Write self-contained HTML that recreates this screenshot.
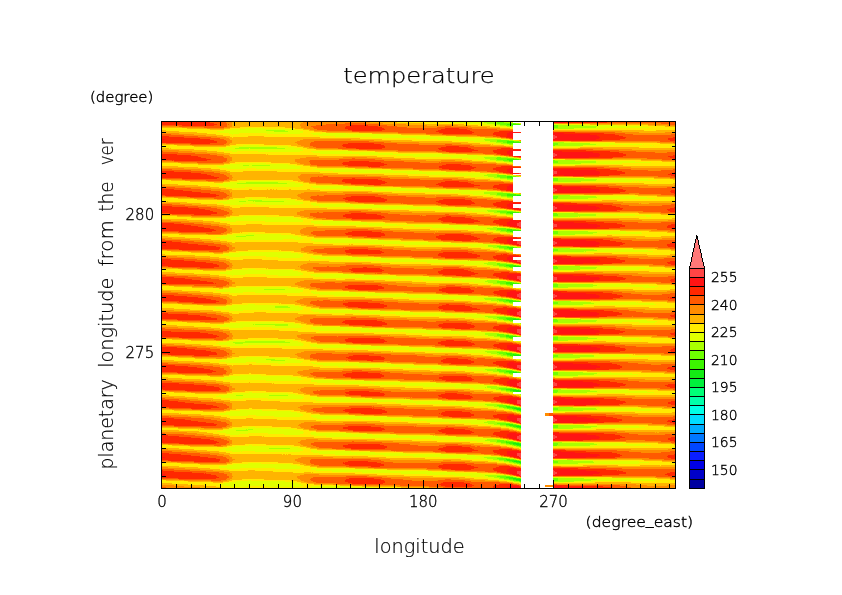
<!DOCTYPE html><html><head><meta charset="utf-8"><title>temperature</title><style>html,body{margin:0;padding:0;background:#fff}svg{display:block}</style></head><body><svg width="842" height="595" viewBox="0 0 842 595"><rect width="842" height="595" fill="#fff"/><g transform="translate(0,0.5)" fill="none" stroke-width="1" shape-rendering="crispEdges"><path stroke="#14eb14" d="M517 195h4M514 266h6M513 319h6M513 354h1M514 355h7M513 372h4M513 390h6M516 391h5M514 408h6M517 409h4M516 426h5M520 427h1M513 443h6M516 444h5M520 445h1M514 461h6M519 462h2M513 478h3M516 479h5M519 480h2"/><path stroke="#3cf500" d="M507 124h13M512 125h1M507 141h7M507 142h14M507 159h12M509 160h4M507 176h5M507 177h6M512 178h1M507 194h9M507 195h10M512 196h1M507 212h12M510 213h3M507 229h5M507 230h14M510 231h3M507 247h7M509 248h4M506 265h10M509 266h5M520 266h1M506 282h6M506 283h13M510 284h3M506 300h7M509 301h11M506 318h10M507 319h6M519 319h2M512 320h1M506 335h3M506 336h11M509 337h4M506 353h6M507 354h6M514 354h5M510 355h4M506 371h8M509 372h4M517 372h3M506 389h10M510 390h3M519 390h2M513 391h3M506 406h4M507 407h10M512 408h2M520 408h1M516 409h1M519 410h2M506 424h7M509 425h10M513 426h3M517 427h3M506 441h1M506 442h10M509 443h4M519 443h2M513 444h3M517 445h3M506 459h4M507 460h10M512 461h2M520 461h1M516 462h3M520 463h1M506 477h7M509 478h4M516 478h4M513 479h3M516 480h3M520 481h1"/><path stroke="#6eff00" d="M497 122h7M497 123h19M500 124h7M520 124h1M506 125h6M553 125h5M553 126h5M553 127h5M497 140h12M497 141h10M514 141h5M503 142h4M507 143h6M553 143h5M553 144h5M553 145h2M497 157h4M496 158h18M497 159h10M519 159h2M503 160h6M553 160h2M509 161h4M553 161h5M553 162h5M497 175h9M497 176h10M512 176h4M500 177h7M507 178h5M553 178h5M553 179h5M553 180h5M497 193h13M497 194h10M516 194h4M501 195h6M507 196h5M553 196h5M553 197h5M553 198h4M497 211h16M500 212h7M519 212h2M506 213h4M553 213h4M512 214h1M553 214h5M553 215h5M497 228h9M497 229h10M512 229h4M501 230h6M506 231h4M553 231h5M512 232h1M553 232h5M553 233h5M497 246h12M499 247h8M514 247h3M504 248h5M509 249h4M553 249h5M553 250h5M553 251h1M497 263h3M497 264h16M499 265h7M516 265h3M504 266h5M553 266h4M510 267h3M553 267h5M553 268h5M497 281h9M497 282h9M512 282h2M500 283h6M519 283h2M506 284h4M553 284h5M512 285h1M553 285h5M553 286h5M497 299h12M499 300h7M513 300h3M503 301h6M520 301h1M509 302h4M553 302h5M553 303h5M497 317h15M499 318h7M516 318h3M503 319h4M553 319h4M509 320h3M553 320h5M553 321h5M497 334h7M497 335h9M509 335h4M500 336h6M517 336h3M506 337h3M553 337h5M510 338h3M553 338h5M553 339h5M497 352h10M499 353h7M512 353h4M503 354h4M519 354h2M507 355h3M553 355h5M512 356h1M553 356h5M553 357h1M497 369h4M497 370h15M499 371h7M514 371h3M504 372h5M520 372h1M553 372h5M509 373h4M553 373h5M553 374h5M499 388h13M501 389h5M516 389h1M518 389h1M506 390h4M553 390h5M510 391h3M553 391h5M553 392h4M497 405h10M499 406h7M510 406h4M503 407h4M517 407h3M507 408h5M553 408h5M513 409h3M553 409h5M517 410h2M520 411h1M497 423h13M500 424h6M513 424h3M506 425h3M519 425h2M553 425h5M510 426h3M553 426h5M514 427h3M553 427h5M519 428h2M497 440h7M497 441h9M507 441h6M501 442h5M516 442h3M506 443h3M553 443h5M510 444h3M553 444h5M514 445h3M553 445h4M519 446h2M497 458h10M499 459h7M510 459h4M504 460h3M517 460h2M553 460h1M509 461h3M553 461h5M513 462h3M553 462h5M517 463h3M497 476h13M500 477h6M513 477h3M504 478h5M520 478h1M553 478h5M509 479h4M553 479h5M513 480h3M553 480h5M519 481h1"/><path stroke="#aaff00" d="M484 122h13M504 122h6M487 123h10M516 123h3M494 124h6M500 125h6M558 125h26M507 126h6M558 126h39M558 127h38M553 128h21M266 130h19M274 131h14M484 139h17M485 140h12M509 140h4M490 141h7M519 141h2M496 142h7M553 142h11M501 143h6M558 143h32M509 144h4M558 144h38M555 145h28M239 147h38M235 148h14M250 148h35M484 157h13M501 157h7M485 158h11M514 158h3M490 159h7M496 160h7M555 160h20M504 161h5M558 161h38M512 162h1M558 162h38M553 163h28M243 165h6M252 165h18M487 174h12M484 175h13M506 175h4M488 176h9M516 176h3M494 177h6M500 178h7M558 178h26M507 179h6M558 179h39M558 180h38M553 181h28M246 182h32M237 183h50M484 192h19M484 193h13M510 193h4M490 194h7M520 194h1M496 195h5M553 195h17M501 196h6M558 196h38M507 197h6M558 197h39M557 198h31M248 200h14M239 201h7M253 201h1M255 201h29M487 210h20M488 211h9M513 211h3M494 212h6M500 213h6M557 213h21M506 214h6M558 214h38M512 215h1M558 215h38M553 216h25M579 216h1M493 227h4M487 228h10M506 228h4M490 229h7M516 229h3M496 230h5M500 231h6M558 231h30M507 232h5M558 232h39M558 233h35M553 234h22M246 235h8M236 236h10M488 245h13M488 246h9M509 246h4M493 247h6M517 247h3M499 248h5M553 248h17M504 249h5M558 249h36M510 250h3M558 250h39M554 251h30M585 251h1M488 262h8M484 263h13M500 263h7M487 264h10M513 264h1M493 265h6M519 265h2M499 266h5M557 266h23M506 267h4M558 267h39M512 268h1M558 268h38M553 269h27M487 280h12M485 281h12M506 281h4M488 282h9M514 282h3M493 283h7M553 283h4M500 284h6M558 284h35M507 285h5M558 285h39M558 286h35M553 287h15M264 289h21M484 298h19M485 299h12M509 299h3M491 300h8M516 300h3M497 301h1M499 301h4M553 301h18M504 302h5M558 302h33M510 303h3M558 303h36M553 304h30M275 306h13M275 307h15M485 316h21M488 317h9M512 317h2M493 318h6M519 318h1M497 319h6M557 319h24M504 320h5M558 320h39M510 321h3M558 321h38M553 322h25M520 323h1M253 324h1M255 324h33M275 325h13M485 333h14M485 334h12M504 334h5M488 335h9M513 335h3M494 336h6M520 336h1M553 336h5M500 337h6M558 337h30M506 338h4M558 338h39M512 339h1M558 339h29M553 340h15M245 341h40M233 342h57M235 343h8M485 351h18M487 352h10M507 352h5M491 353h8M516 353h1M497 354h6M553 354h20M501 355h6M558 355h36M507 356h5M558 356h36M554 357h26M266 359h9M271 360h14M495 368h1M485 369h12M501 369h6M487 370h10M512 370h1M493 371h6M517 371h2M499 372h5M558 372h25M504 373h5M558 373h39M510 374h3M558 374h36M553 375h25M487 386h10M485 387h1M487 387h20M491 388h8M512 388h2M496 389h5M517 389h1M519 389h1M553 389h8M501 390h5M558 390h32M506 391h4M558 391h39M512 392h1M557 392h30M520 394h1M236 395h7M269 395h19M485 404h18M487 405h10M507 405h3M494 406h5M514 406h2M499 407h4M520 407h1M553 407h20M504 408h3M558 408h38M509 409h4M558 409h39M513 410h4M553 410h30M517 411h3M487 421h8M484 422h22M488 423h9M510 423h3M494 424h6M516 424h1M500 425h6M558 425h26M506 426h4M558 426h39M512 427h2M558 427h33M516 428h3M553 428h20M246 429h1M248 429h5M519 429h2M236 430h12M487 439h13M485 440h12M504 440h5M490 441h7M513 441h1M496 442h5M519 442h1M553 442h9M501 443h5M558 443h36M506 444h4M558 444h39M512 445h2M557 445h33M516 446h3M520 447h1M269 448h21M484 457h19M487 458h10M507 458h3M493 459h6M514 459h2M499 460h5M519 460h2M554 460h19M504 461h5M558 461h35M509 462h4M558 462h36M514 463h3M553 463h25M519 464h2M485 475h21M488 476h9M510 476h3M494 477h6M516 477h1M499 478h5M558 478h26M504 479h5M558 479h39M510 480h3M558 480h33M514 481h5M553 481h21M520 482h1"/><path stroke="#e1ff00" d="M448 122h36M510 122h3M469 123h18M519 123h1M483 124h11M553 124h9M493 125h7M584 125h33M500 126h7M597 126h44M509 127h4M596 127h53M246 128h18M574 128h31M232 129h62M224 130h42M285 130h15M217 131h57M288 131h15M220 132h83M229 133h10M267 133h33M311 133h9M322 133h24M347 133h1M232 134h1M313 134h68M319 135h83M335 136h95M372 137h96M416 138h80M438 139h46M501 139h6M459 140h26M513 140h3M474 141h16M487 142h9M564 142h16M494 143h7M590 143h25M503 144h6M596 144h46M643 144h1M243 145h16M512 145h1M583 145h26M650 145h2M653 145h1M232 146h56M553 146h28M226 147h13M277 147h17M219 148h16M249 148h1M285 148h15M219 149h82M224 150h79M232 151h5M258 151h42M311 151h41M313 152h65M320 153h73M359 154h89M396 155h81M413 156h88M451 157h33M508 157h4M468 158h17M517 158h2M478 159h12M488 160h8M575 160h21M496 161h8M596 161h39M506 162h6M596 162h55M240 163h26M581 163h41M230 164h58M553 164h27M224 165h19M249 165h3M270 165h25M217 166h83M219 167h82M227 168h19M256 168h44M313 169h51M319 170h74M333 171h89M359 172h96M407 173h78M427 174h60M499 174h5M455 175h29M510 175h4M471 176h17M519 176h2M484 177h10M553 177h14M493 178h7M584 178h42M500 179h7M597 179h51M509 180h4M596 180h61M239 181h51M581 181h51M633 181h1M636 181h1M639 181h1M229 182h17M278 182h17M553 182h27M223 183h14M287 183h13M216 184h87M219 185h84M224 186h76M311 186h37M230 187h15M313 187h61M320 188h86M353 189h79M377 190h93M416 191h81M439 192h45M503 192h4M461 193h23M514 193h3M473 194h17M487 195h9M570 195h20M494 196h7M596 196h39M501 197h6M597 197h50M249 198h3M509 198h4M588 198h67M236 199h50M553 199h40M227 200h21M262 200h33M220 201h19M246 201h7M254 201h1M284 201h16M217 202h86M223 203h80M311 203h5M230 204h13M256 204h44M311 204h42M313 205h68M319 206h94M354 207h88M382 208h93M433 209h67M454 210h33M507 210h5M472 211h16M516 211h3M485 212h9M493 213h7M578 213h25M500 214h6M596 214h39M506 215h6M596 215h55M243 216h23M578 216h1M580 216h23M646 216h5M232 217h61M553 217h22M226 218h72M220 219h81M221 220h82M230 221h6M265 221h38M311 221h34M311 222h56M314 223h70M323 224h74M369 225h93M414 226h69M432 227h61M497 227h7M454 228h33M510 228h4M475 229h15M519 229h1M488 230h8M553 230h17M494 231h6M588 231h38M500 232h7M597 232h44M248 233h7M507 233h6M593 233h49M233 234h48M575 234h22M227 235h19M254 235h39M553 235h17M221 236h15M246 236h52M216 237h85M220 238h83M313 238h1M227 239h56M294 239h6M311 239h48M311 240h73M314 241h86M323 242h106M368 243h88M404 244h87M454 245h34M501 245h6M471 246h17M513 246h3M485 247h8M520 247h1M493 248h6M570 248h16M499 249h5M594 249h39M506 250h4M597 250h51M512 251h1M584 251h1M586 251h67M239 252h52M553 252h33M229 253h69M224 254h79M221 255h82M229 256h11M266 256h37M310 256h10M278 257h22M311 257h47M314 258h73M329 259h87M358 260h84M381 261h102M427 262h61M496 262h5M448 263h36M507 263h3M467 264h20M514 264h3M483 265h10M491 266h8M580 266h35M499 267h7M597 267h48M507 268h5M596 268h56M248 269h7M580 269h30M615 269h24M232 270h61M553 270h25M226 271h72M220 272h81M220 273h83M227 274h18M266 274h37M310 274h39M232 275h1M278 275h22M311 275h61M314 276h83M323 277h112M362 278h97M406 279h79M423 280h64M499 280h5M462 281h23M510 281h3M474 282h14M517 282h2M484 283h9M557 283h20M493 284h7M593 284h35M500 285h7M597 285h52M509 286h4M593 286h65M240 287h48M568 287h32M643 287h12M229 288h66M520 288h1M221 289h43M285 289h15M216 290h87M220 291h83M311 291h3M315 291h1M230 292h13M255 292h45M311 292h45M313 293h68M319 294h90M334 295h115M380 296h97M409 297h88M427 298h57M503 298h4M461 299h24M512 299h2M474 300h17M519 300h1M490 301h7M498 301h1M571 301h15M497 302h7M591 302h45M637 302h1M504 303h6M594 303h60M248 304h7M512 304h1M583 304h73M232 305h62M553 305h31M224 306h1M226 306h49M288 306h11M214 307h61M290 307h13M216 308h87M221 309h82M311 309h9M229 310h14M271 310h29M311 310h48M313 311h72M319 312h94M361 313h91M396 314h85M420 315h80M455 316h30M506 316h4M472 317h16M514 317h2M484 318h9M520 318h1M553 318h1M491 319h6M581 319h44M497 320h7M597 320h50M504 321h6M596 321h61M240 322h35M512 322h1M578 322h44M639 322h16M230 323h64M517 323h3M553 323h22M576 323h1M224 324h29M254 324h1M288 324h11M217 325h58M288 325h13M220 326h83M229 327h14M272 327h29M311 327h37M311 328h58M314 329h83M319 330h111M361 331h98M406 332h84M427 333h58M499 333h5M459 334h26M509 334h3M474 335h14M516 335h1M485 336h9M558 336h17M493 337h7M588 337h37M500 338h6M597 338h42M506 339h6M587 339h55M236 340h57M568 340h20M227 341h18M285 341h13M517 341h4M553 341h2M219 342h14M290 342h11M216 343h19M243 343h60M219 344h85M310 344h7M227 345h21M279 345h24M310 345h41M311 346h69M317 347h95M356 348h85M382 349h88M409 350h88M435 351h50M503 351h4M465 352h22M512 352h1M480 353h11M517 353h2M488 354h9M573 354h19M496 355h5M594 355h35M630 355h1M501 356h6M594 356h55M246 357h16M509 357h4M580 357h22M235 358h53M553 358h25M227 359h39M275 359h20M519 359h2M220 360h51M285 360h15M219 361h84M226 362h20M256 362h45M311 362h3M278 363h7M313 363h56M317 364h77M323 365h91M338 366h6M358 366h84M400 367h77M432 368h63M496 368h5M459 369h26M507 369h3M471 370h16M513 370h3M483 371h10M519 371h1M553 371h12M491 372h8M583 372h28M499 373h5M597 373h35M506 374h4M594 374h44M240 375h21M512 375h1M578 375h23M230 376h61M553 376h25M224 377h74M520 377h1M220 378h81M223 379h80M232 380h1M266 380h34M311 380h32M311 381h60M317 382h83M335 383h106M374 384h94M406 385h84M423 386h64M497 386h6M455 387h30M486 387h1M507 387h3M474 388h17M514 388h2M488 389h8M520 389h1M561 389h17M496 390h5M590 390h38M501 391h5M597 391h50M249 392h3M507 392h5M587 392h67M233 393h55M553 393h37M227 394h68M517 394h3M219 395h17M243 395h26M288 395h13M216 396h87M221 397h83M310 397h9M230 398h13M268 398h35M310 398h46M311 399h69M316 400h97M330 401h116M396 402h82M416 403h81M448 404h37M503 404h3M468 405h19M510 405h3M484 406h10M516 406h1M493 407h6M573 407h26M497 408h7M596 408h42M504 409h5M597 409h54M240 410h22M510 410h3M583 410h68M230 411h61M514 411h3M553 411h27M226 412h71M519 412h2M220 413h81M220 414h83M229 415h19M256 415h47M311 415h9M274 416h26M311 416h51M313 417h77M317 418h93M363 419h88M401 420h84M427 421h60M495 421h5M449 422h35M506 422h3M471 423h17M513 423h1M485 424h9M517 424h2M553 424h8M493 425h7M584 425h38M500 426h6M597 426h42M248 427h7M507 427h5M591 427h54M233 428h48M513 428h3M573 428h20M228 429h18M247 429h1M253 429h41M516 429h3M223 430h13M248 430h52M520 430h1M217 431h86M220 432h84M311 432h5M226 433h22M268 433h35M310 433h41M230 434h9M284 434h16M311 434h61M314 435h84M326 436h112M362 437h102M410 438h83M432 439h55M500 439h4M459 440h26M509 440h1M477 441h13M514 441h2M487 442h9M520 442h1M562 442h22M494 443h7M594 443h29M500 444h6M597 444h48M646 444h1M249 445h3M507 445h5M590 445h61M235 446h56M512 446h4M553 446h41M229 447h69M517 447h3M223 448h46M290 448h11M219 449h84M226 450h77M311 450h6M232 451h8M241 451h1M255 451h45M311 451h40M313 452h62M319 453h85M405 453h1M335 454h113M384 455h91M413 456h84M440 457h44M503 457h3M466 458h21M510 458h3M481 459h12M516 459h1M491 460h8M573 460h20M499 461h5M593 461h46M504 462h5M594 462h55M248 463h13M510 463h4M578 463h61M233 464h58M516 464h3M553 464h27M227 465h70M520 465h1M219 466h81M219 467h82M227 468h13M275 468h25M311 468h5M311 469h53M316 470h74M332 471h100M362 472h93M401 473h80M427 474h73M454 475h31M506 475h3M471 476h17M513 476h1M484 477h10M517 477h2M553 477h12M491 478h8M584 478h47M499 479h5M597 479h53M249 480h2M506 480h4M591 480h64M236 481h49M512 481h2M574 481h19M229 482h64M517 482h3M559 482h5M224 483h74M219 484h82M223 485h80M230 486h18M266 486h1M268 486h32M311 486h34M311 487h61M373 487h1"/><path stroke="#ffeb00" d="M397 122h51M425 123h44M520 123h1M464 124h19M562 124h28M478 125h15M617 125h31M490 126h10M641 126h24M240 127h45M500 127h9M649 127h26M162 128h25M230 128h16M264 128h31M510 128h3M605 128h70M162 129h48M224 129h8M294 129h9M553 129h122M166 130h58M300 130h9M644 130h12M179 131h38M303 131h11M197 132h23M303 132h23M207 133h22M239 133h28M300 133h11M320 133h2M346 133h1M348 133h24M216 134h16M233 134h80M381 134h20M223 135h96M402 135h28M230 136h18M264 136h71M430 136h26M232 137h1M320 137h52M468 137h17M360 138h56M496 138h5M382 139h56M507 139h3M412 140h47M516 140h3M452 141h22M468 142h19M580 142h35M480 143h14M615 143h45M236 144h28M491 144h1M493 144h10M642 144h1M644 144h31M162 145h15M230 145h13M259 145h32M504 145h8M609 145h41M652 145h1M654 145h21M162 146h32M226 146h6M288 146h9M581 146h94M162 147h64M294 147h9M553 147h27M639 147h36M169 148h1M171 148h48M300 148h7M194 149h25M301 149h15M207 150h17M303 150h45M217 151h15M237 151h21M300 151h11M352 151h23M224 152h89M378 152h20M230 153h90M393 153h49M266 154h1M268 154h91M448 154h19M317 155h79M477 155h17M377 156h36M501 156h5M394 157h57M512 157h2M415 158h53M519 158h2M462 159h16M553 159h12M472 160h16M596 160h45M487 161h9M635 161h27M235 162h36M496 162h10M651 162h24M162 163h19M230 163h10M266 163h24M507 163h6M622 163h53M162 164h36M224 164h6M288 164h9M580 164h95M162 165h62M295 165h8M553 165h22M623 165h52M178 166h39M300 166h10M198 167h21M301 167h16M211 168h16M246 168h10M300 168h55M220 169h93M364 169h27M226 170h93M393 170h26M230 171h13M277 171h56M422 171h24M320 172h39M455 172h25M338 173h69M485 173h12M384 174h43M504 174h3M408 175h47M514 175h2M429 176h42M464 177h20M567 177h17M475 178h18M626 178h28M490 179h10M648 179h25M162 180h9M237 180h56M501 180h8M657 180h18M162 181h28M230 181h9M290 181h8M510 181h3M632 181h1M634 181h2M637 181h2M640 181h35M162 182h52M223 182h6M295 182h8M580 182h95M162 183h61M300 183h9M644 183h29M178 184h38M303 184h13M198 185h21M303 185h40M210 186h14M300 186h11M348 186h16M219 187h11M245 187h68M374 187h27M226 188h94M406 188h23M232 189h17M252 189h15M268 189h2M272 189h1M274 189h2M277 189h12M291 189h16M310 189h43M432 189h27M320 190h57M470 190h17M372 191h44M497 191h4M392 192h47M507 192h5M425 193h36M517 193h2M458 194h15M470 195h17M590 195h48M483 196h11M635 196h22M245 197h21M267 197h1M493 197h8M647 197h28M162 198h16M233 198h16M252 198h39M501 198h8M655 198h20M162 199h35M229 199h7M286 199h11M512 199h1M593 199h82M162 200h65M295 200h8M553 200h49M617 200h58M166 201h1M168 201h52M300 201h10M187 202h30M303 202h14M201 203h22M303 203h8M316 203h34M217 204h13M243 204h13M300 204h11M353 204h21M224 205h89M381 205h32M230 206h89M413 206h28M232 207h8M269 207h85M442 207h25M327 208h55M475 208h16M372 209h61M500 209h6M409 210h45M512 210h2M435 211h37M519 211h2M465 212h20M553 212h21M477 213h16M603 213h36M490 214h10M635 214h26M239 215h40M497 215h9M651 215h24M162 216h15M230 216h13M266 216h28M507 216h6M603 216h43M651 216h24M162 217h29M226 217h6M293 217h8M575 217h100M162 218h64M298 218h9M639 218h33M187 219h33M301 219h12M203 220h18M303 220h30M214 221h16M236 221h29M303 221h8M345 221h16M220 222h91M367 222h18M227 223h87M384 223h23M230 224h16M262 224h61M397 224h52M314 225h55M462 225h16M356 226h58M483 226h14M498 226h1M382 227h50M504 227h5M403 228h51M514 228h2M430 229h45M520 229h1M468 230h20M570 230h50M484 231h10M626 231h23M240 232h1M242 232h23M493 232h7M641 232h26M232 233h16M255 233h36M500 233h7M642 233h33M162 234h17M227 234h6M281 234h14M510 234h3M597 234h78M162 235h65M293 235h8M570 235h37M612 235h63M168 236h53M298 236h9M645 236h16M185 237h31M301 237h13M200 238h20M303 238h10M314 238h38M211 239h16M283 239h11M300 239h11M359 239h19M220 240h91M384 240h17M227 241h87M400 241h28M232 242h3M298 242h25M429 242h22M313 243h55M456 243h27M333 244h16M350 244h1M353 244h51M491 244h9M382 245h1M384 245h70M507 245h3M404 246h67M516 246h1M468 247h17M553 247h1M481 248h12M586 248h47M490 249h9M633 249h24M248 250h31M280 250h1M499 250h7M648 250h23M162 251h9M236 251h58M506 251h6M653 251h22M162 252h29M229 252h10M291 252h10M586 252h89M162 253h52M223 253h6M298 253h9M553 253h41M612 253h63M165 254h59M303 254h10M647 254h23M195 255h26M303 255h19M210 256h19M240 256h26M303 256h7M320 256h32M219 257h59M300 257h11M358 257h23M226 258h88M387 258h27M230 259h13M262 259h67M416 259h22M278 260h31M310 260h48M442 260h26M469 260h1M329 261h52M483 261h13M371 262h56M501 262h5M390 263h58M510 263h3M431 264h36M517 264h2M464 265h19M553 265h22M477 266h14M615 266h34M490 267h9M645 267h20M242 268h24M267 268h1M499 268h8M652 268h23M162 269h20M232 269h16M255 269h40M507 269h6M610 269h5M639 269h36M162 270h41M226 270h6M293 270h8M578 270h97M162 271h64M298 271h9M520 271h1M554 271h20M649 271h26M175 272h45M301 272h13M194 273h26M303 273h40M210 274h17M245 274h21M303 274h7M349 274h15M219 275h13M233 275h45M300 275h11M372 275h24M226 276h88M397 276h32M230 277h13M267 277h56M435 277h17M313 278h49M459 278h21M336 279h9M355 279h51M485 279h14M385 280h38M504 280h3M412 281h50M513 281h1M426 282h48M519 282h2M469 283h15M577 283h54M478 284h15M628 284h29M491 285h9M649 285h25M162 286h12M236 286h55M501 286h8M658 286h17M162 287h30M229 287h11M288 287h10M510 287h3M600 287h43M655 287h20M162 288h57M223 288h6M295 288h9M516 288h4M553 288h122M163 289h58M300 289h9M633 289h37M182 290h34M303 290h14M200 291h20M303 291h8M314 291h1M316 291h33M213 292h17M243 292h12M300 292h11M356 292h19M221 293h92M381 293h26M229 294h90M409 294h33M232 295h5M287 295h47M449 295h19M317 296h63M477 296h11M365 297h44M497 297h4M393 298h34M507 298h3M409 299h52M514 299h2M454 300h20M520 300h1M553 300h2M471 301h19M586 301h56M487 302h10M636 302h1M638 302h29M162 303h1M242 303h37M280 303h1M497 303h7M654 303h21M162 304h20M232 304h16M255 304h40M506 304h6M656 304h19M162 305h41M226 305h6M294 305h7M512 305h1M584 305h91M162 306h62M225 306h1M299 306h7M517 306h4M553 306h41M615 306h60M162 307h52M303 307h8M649 307h26M174 308h42M303 308h16M190 309h31M303 309h8M320 309h32M213 310h16M243 310h28M300 310h11M359 310h21M221 311h92M385 311h25M229 312h25M266 312h53M413 312h32M232 313h7M298 313h63M452 313h25M332 314h13M353 314h43M481 314h15M380 315h40M500 315h4M400 316h55M510 316h2M439 317h33M516 317h3M465 318h19M554 318h26M474 319h17M625 319h28M488 320h9M647 320h21M162 321h4M236 321h48M497 321h7M657 321h18M162 322h25M230 322h10M275 322h20M506 322h6M622 322h17M655 322h20M162 323h48M224 323h6M294 323h7M513 323h4M575 323h1M577 323h98M162 324h62M299 324h7M519 324h2M632 324h43M177 325h40M301 325h12M194 326h26M303 326h37M211 327h18M243 327h29M301 327h10M348 327h14M220 328h91M369 328h25M229 329h85M397 329h29M279 330h40M430 330h21M298 331h63M459 331h22M316 332h90M490 332h9M374 333h53M504 333h3M406 334h53M512 334h1M422 335h52M517 335h2M467 336h18M575 336h47M474 337h19M625 337h26M248 338h30M490 338h10M639 338h31M162 339h10M233 339h62M499 339h7M642 339h33M162 340h29M229 340h7M293 340h8M507 340h6M588 340h87M162 341h65M298 341h8M514 341h3M555 341h38M606 341h69M162 342h57M301 342h10M520 342h1M648 342h27M185 343h31M303 343h14M201 344h18M304 344h6M317 344h29M213 345h14M248 345h31M303 345h7M351 345h20M221 346h90M380 346h29M230 347h87M412 347h23M282 348h74M441 348h21M323 349h59M470 349h17M368 350h41M497 350h4M391 351h1M393 351h42M507 351h2M425 352h40M513 352h3M458 353h22M519 353h1M553 353h2M471 354h17M592 354h41M634 354h1M483 355h13M629 355h1M631 355h30M239 356h30M493 356h8M649 356h26M162 357h16M232 357h14M262 357h28M501 357h1M503 357h6M602 357h73M162 358h33M227 358h8M288 358h9M510 358h3M578 358h97M162 359h65M295 359h9M516 359h3M553 359h22M648 359h27M174 360h46M300 360h10M194 361h25M303 361h14M210 362h16M246 362h10M301 362h10M314 362h45M219 363h59M285 363h28M369 363h22M227 364h22M252 364h65M394 364h20M232 365h1M271 365h52M414 365h27M313 366h25M344 366h14M442 366h25M320 367h80M477 367h20M380 368h52M501 368h5M403 369h56M510 369h2M430 370h41M516 370h1M465 371h18M520 371h1M565 371h22M474 372h17M611 372h30M249 373h2M488 373h11M632 373h32M233 374h33M497 374h9M638 374h37M162 375h23M229 375h11M261 375h32M506 375h6M601 375h74M162 376h48M224 376h6M291 376h10M512 376h1M578 376h97M168 377h56M298 377h9M517 377h3M555 377h18M182 378h38M301 378h13M201 379h22M303 379h30M216 380h16M233 380h33M300 380h11M343 380h21M223 381h88M371 381h29M230 382h19M250 382h67M400 382h36M272 383h1M274 383h61M441 383h20M314 384h60M468 384h16M359 385h47M490 385h9M380 386h43M503 386h3M405 387h50M510 387h2M423 388h51M516 388h1M470 389h18M578 389h51M484 390h12M628 390h30M245 391h21M493 391h8M647 391h28M162 392h12M232 392h17M252 392h41M501 392h6M654 392h21M162 393h33M227 393h6M288 393h10M509 393h4M590 393h85M162 394h65M295 394h9M514 394h3M553 394h44M625 394h50M169 395h50M301 395h9M519 395h2M185 396h31M303 396h14M198 397h23M304 397h6M319 397h32M213 398h17M243 398h25M303 398h7M356 398h16M221 399h90M380 399h30M230 400h16M261 400h55M413 400h29M280 401h50M446 401h22M313 402h83M478 402h13M377 403h39M497 403h4M401 404h47M506 404h3M433 405h35M513 405h1M462 406h22M517 406h2M553 406h6M474 407h19M599 407h42M249 408h3M488 408h9M638 408h24M236 409h41M497 409h7M651 409h24M162 410h12M230 410h10M262 410h32M504 410h6M651 410h24M162 411h41M224 411h6M291 411h9M512 411h2M580 411h95M162 412h64M297 412h9M516 412h3M553 412h12M635 412h37M179 413h1M181 413h39M301 413h10M520 413h1M201 414h19M303 414h17M214 415h15M248 415h8M303 415h8M320 415h35M221 416h53M300 416h11M362 416h25M227 417h86M390 417h22M230 418h16M253 418h64M410 418h32M277 419h86M451 419h26M316 420h85M485 420h12M380 421h47M500 421h4M408 422h41M509 422h1M430 423h41M514 423h2M464 424h21M519 424h1M561 424h36M478 425h15M622 425h26M242 426h30M491 426h9M639 426h25M232 427h16M255 427h36M501 427h6M645 427h30M162 428h16M229 428h4M281 428h16M509 428h4M593 428h82M162 429h36M199 429h1M223 429h5M294 429h9M513 429h3M553 429h43M615 429h60M179 430h44M300 430h9M517 430h3M199 431h18M303 431h13M207 432h13M304 432h7M316 432h30M213 433h13M248 433h20M303 433h7M351 433h16M219 434h11M239 434h45M300 434h11M372 434h24M225 435h89M398 435h35M434 435h1M230 436h19M262 436h1M264 436h62M438 436h18M314 437h48M464 437h19M332 438h78M493 438h7M375 439h57M504 439h3M412 440h47M510 440h3M437 441h40M516 441h1M470 442h17M584 442h42M483 443h11M623 443h35M245 444h21M493 444h7M645 444h1M647 444h27M162 445h10M232 445h17M252 445h42M500 445h7M651 445h24M162 446h28M227 446h8M291 446h9M507 446h5M594 446h81M162 447h67M298 447h8M513 447h4M553 447h122M179 448h44M301 448h9M519 448h2M194 449h25M303 449h14M207 450h19M303 450h8M317 450h28M219 451h13M240 451h1M242 451h13M300 451h11M351 451h19M226 452h87M375 452h28M230 453h89M404 453h1M406 453h35M282 454h1M285 454h1M287 454h1M291 454h44M448 454h19M323 455h61M475 455h16M368 456h45M497 456h4M386 457h54M506 457h3M425 458h41M513 458h1M461 459h20M517 459h2M553 459h14M472 460h19M593 460h51M488 461h11M639 461h23M242 462h36M497 462h7M649 462h26M162 463h19M232 463h16M261 463h32M506 463h4M639 463h36M162 464h38M227 464h6M291 464h9M512 464h4M580 464h95M162 465h65M297 465h7M517 465h3M553 465h30M618 465h22M660 465h1M179 466h40M300 466h10M198 467h21M301 467h16M210 468h17M240 468h35M300 468h11M316 468h39M220 469h91M364 469h23M229 470h19M255 470h61M390 470h38M273 471h59M432 471h15M293 472h11M311 472h1M313 472h49M455 472h22M355 473h46M481 473h15M377 474h50M500 474h4M404 475h50M509 475h1M433 476h38M514 476h2M465 477h19M519 477h1M565 477h47M474 478h17M631 478h26M242 479h22M488 479h11M650 479h20M162 480h4M232 480h17M251 480h40M499 480h7M655 480h20M162 481h26M229 481h7M285 481h12M507 481h5M593 481h82M162 482h51M223 482h6M293 482h8M513 482h4M553 482h6M564 482h31M631 482h44M172 483h52M298 483h8M519 483h2M188 484h31M301 484h13M204 485h19M303 485h37M216 486h14M248 486h18M267 486h1M300 486h11M345 486h17M221 487h90M372 487h1M374 487h27"/><path stroke="#ffb400" d="M232 122h71M370 122h27M232 123h69M383 123h42M232 124h68M406 124h58M590 124h58M232 125h68M427 125h11M458 125h20M648 125h19M232 126h69M471 126h19M665 126h10M162 127h20M230 127h10M285 127h16M487 127h13M187 128h20M224 128h6M295 128h9M500 128h10M210 129h14M303 129h7M162 130h4M309 130h5M553 130h91M656 130h19M162 131h17M314 131h8M622 131h53M166 132h31M326 132h33M639 132h26M179 133h28M372 133h26M194 134h22M401 134h25M206 135h17M430 135h16M217 136h13M248 136h16M456 136h24M226 137h6M233 137h87M485 137h12M229 138h131M501 138h5M230 139h73M351 139h31M510 139h3M232 140h68M374 140h38M519 140h1M232 141h65M391 141h61M553 141h18M232 142h63M419 142h49M615 142h42M230 143h67M461 143h19M660 143h14M162 144h12M229 144h7M264 144h34M472 144h19M492 144h1M177 145h15M226 145h4M291 145h10M490 145h14M194 146h32M297 146h7M506 146h7M303 147h6M580 147h59M162 148h7M170 148h1M307 148h7M553 148h25M603 148h72M162 149h32M316 149h26M632 149h43M179 150h28M348 150h19M192 151h25M375 151h21M207 152h17M398 152h40M217 153h13M442 153h14M224 154h42M267 154h1M467 154h18M229 155h88M494 155h6M230 156h147M506 156h3M232 157h74M319 157h24M367 157h27M514 157h3M232 158h68M382 158h33M232 159h63M401 159h61M565 159h76M232 160h63M426 160h15M455 160h17M641 160h20M230 161h65M470 161h17M662 161h13M162 162h16M229 162h6M271 162h26M483 162h13M181 163h17M224 163h6M290 163h10M497 163h10M198 164h26M297 164h7M509 164h4M303 165h7M575 165h48M162 166h16M310 166h7M609 166h66M162 167h36M317 167h31M631 167h44M184 168h27M355 168h27M201 169h19M391 169h22M212 170h14M419 170h22M220 171h10M243 171h34M446 171h22M471 171h4M227 172h93M480 172h11M230 173h108M497 173h6M230 174h71M323 174h61M507 174h5M232 175h68M365 175h1M367 175h41M516 175h3M232 176h66M388 176h41M233 177h65M409 177h55M584 177h70M232 178h67M458 178h17M654 178h16M162 179h4M232 179h68M471 179h19M673 179h2M171 180h14M229 180h8M293 180h8M488 180h13M190 181h18M224 181h6M298 181h6M503 181h7M214 182h9M303 182h6M309 183h7M553 183h91M673 183h2M162 184h16M316 184h22M616 184h59M165 185h33M343 185h12M648 185h26M185 186h25M364 186h29M201 187h18M401 187h25M211 188h15M429 188h17M221 189h11M249 189h3M267 189h1M270 189h2M273 189h1M276 189h1M289 189h2M307 189h3M459 189h22M229 190h91M487 190h10M230 191h142M501 191h5M230 192h1M232 192h72M327 192h16M368 192h24M512 192h1M232 193h69M383 193h42M519 193h2M232 194h66M398 194h60M553 194h31M613 194h22M232 195h65M435 195h1M451 195h19M638 195h19M232 196h66M468 196h15M657 196h17M162 197h12M230 197h15M266 197h1M268 197h32M477 197h16M178 198h16M229 198h4M291 198h10M491 198h10M197 199h20M223 199h6M297 199h7M504 199h8M303 200h7M602 200h15M162 201h4M167 201h1M310 201h7M553 201h122M162 202h25M317 202h29M623 202h52M180 203h21M350 203h14M639 203h1M641 203h8M192 204h25M374 204h33M207 205h17M413 205h25M217 206h13M441 206h14M224 207h8M240 207h29M467 207h17M229 208h98M491 208h9M230 209h142M506 209h3M232 210h72M368 210h41M514 210h3M232 211h68M390 211h45M233 212h64M412 212h53M574 212h64M232 213h65M458 213h19M639 213h21M232 214h65M470 214h20M661 214h14M162 215h15M230 215h9M279 215h21M484 215h13M177 216h15M226 216h4M294 216h10M496 216h11M191 217h35M301 217h8M510 217h3M307 218h7M553 218h86M672 218h3M162 219h25M313 219h9M619 219h56M171 220h32M333 220h19M642 220h26M189 221h25M361 221h22M203 222h17M385 222h21M211 223h16M407 223h35M219 224h11M246 224h16M449 224h19M226 225h88M478 225h12M230 226h126M497 226h1M499 226h4M230 227h76M317 227h65M509 227h3M232 228h71M374 228h29M516 228h3M232 229h69M390 229h40M232 230h68M410 230h58M620 230h31M232 231h68M435 231h1M437 231h1M461 231h23M649 231h19M230 232h10M241 232h1M265 232h35M474 232h19M667 232h8M162 233h19M227 233h5M291 233h10M491 233h9M179 234h29M223 234h4M295 234h9M501 234h9M301 235h8M607 235h5M162 236h6M307 236h7M553 236h92M661 236h14M162 237h23M314 237h34M619 237h56M172 238h28M352 238h19M636 238h26M190 239h21M378 239h22M202 240h18M401 240h23M213 241h14M428 241h15M221 242h11M235 242h63M451 242h27M227 243h1M229 243h84M483 243h13M230 244h103M349 244h1M351 244h2M500 244h4M232 245h150M383 245h1M510 245h3M232 246h74M375 246h29M517 246h3M235 247h69M394 247h74M554 247h26M235 248h66M416 248h26M461 248h20M633 248h22M233 249h68M472 249h18M657 249h14M162 250h5M232 250h16M279 250h1M281 250h20M487 250h12M671 250h4M171 251h17M229 251h7M294 251h10M497 251h9M191 252h22M223 252h6M301 252h8M507 252h6M214 253h9M307 253h7M594 253h18M162 254h3M313 254h9M520 254h1M553 254h94M670 254h5M162 255h33M322 255h26M628 255h47M177 256h33M352 256h22M648 256h19M195 257h24M381 257h29M210 258h16M414 258h19M219 259h11M243 259h19M438 259h16M226 260h52M309 260h1M468 260h1M470 260h18M229 261h100M496 261h5M230 262h141M506 262h3M232 263h75M319 263h26M362 263h28M513 263h3M232 264h71M381 264h50M519 264h2M233 265h68M400 265h64M575 265h74M232 266h66M299 266h1M461 266h16M649 266h15M232 267h68M472 267h18M665 267h10M162 268h16M230 268h12M266 268h1M268 268h33M487 268h12M182 269h18M226 269h6M295 269h9M499 269h8M203 270h23M301 270h8M509 270h4M307 271h7M516 271h4M553 271h1M574 271h75M162 272h13M314 272h24M603 272h72M162 273h32M343 273h12M638 273h37M177 274h33M364 274h26M197 275h22M396 275h27M210 276h16M429 276h16M219 277h11M243 277h24M452 277h23M226 278h87M480 278h11M230 279h106M345 279h10M499 279h4M232 280h72M320 280h65M507 280h3M232 281h68M374 281h38M514 281h3M235 282h62M396 282h30M553 282h5M235 283h60M412 283h57M631 283h25M232 284h63M426 284h13M462 284h16M657 284h14M162 285h7M232 285h66M472 285h19M674 285h1M174 286h18M229 286h7M291 286h10M490 286h11M192 287h21M223 287h6M298 287h8M503 287h7M219 288h4M304 288h6M512 288h4M162 289h1M309 289h8M519 289h2M553 289h80M670 289h5M162 290h20M317 290h26M619 290h56M171 291h29M349 291h19M635 291h32M188 292h25M375 292h29M201 293h20M407 293h29M213 294h16M442 294h16M220 295h12M237 295h50M468 295h16M227 296h90M488 296h9M229 297h136M501 297h5M230 298h73M328 298h65M510 298h3M232 299h68M382 299h27M516 299h3M232 300h65M398 300h56M555 300h36M592 300h1M600 300h41M232 301h63M414 301h57M642 301h25M232 302h65M468 302h19M667 302h8M163 303h15M230 303h12M279 303h1M281 303h19M483 303h14M182 304h15M227 304h5M295 304h9M496 304h10M203 305h23M301 305h6M507 305h5M306 306h7M514 306h3M594 306h21M311 307h8M519 307h2M553 307h96M162 308h12M319 308h29M628 308h47M162 309h28M352 309h16M645 309h30M174 310h39M380 310h24M200 311h21M410 311h31M216 312h13M254 312h12M445 312h19M223 313h9M239 313h59M477 313h13M229 314h103M345 314h8M496 314h4M230 315h73M316 315h64M504 315h3M232 316h68M369 316h31M512 316h2M232 317h65M384 317h55M519 317h1M233 318h62M407 318h58M580 318h74M232 319h63M458 319h16M653 319h15M232 320h66M470 320h18M668 320h7M166 321h16M229 321h7M284 321h17M485 321h12M187 322h18M224 322h6M295 322h9M497 322h9M210 323h14M301 323h6M507 323h6M306 324h7M514 324h5M553 324h79M162 325h15M313 325h7M321 325h1M520 325h1M615 325h60M162 326h32M340 326h13M632 326h43M178 327h33M362 327h23M198 328h22M394 328h28M214 329h15M426 329h17M223 330h56M451 330h26M230 331h68M481 331h12M230 332h86M499 332h4M232 333h142M507 333h3M232 334h69M364 334h42M513 334h3M233 335h64M388 335h1M390 335h32M519 335h1M553 335h8M233 336h64M409 336h58M622 336h30M232 337h66M429 337h14M452 337h22M651 337h17M162 338h4M232 338h16M278 338h23M470 338h20M670 338h5M172 339h16M229 339h4M295 339h9M487 339h12M191 340h25M223 340h6M301 340h6M499 340h8M306 341h5M510 341h4M593 341h13M311 342h6M516 342h4M553 342h95M162 343h23M317 343h23M620 343h55M174 344h27M346 344h15M192 345h21M371 345h30M206 346h15M409 346h23M217 347h13M435 347h14M226 348h56M462 348h21M230 349h93M487 349h10M232 350h136M501 350h5M232 351h72M335 351h17M353 351h38M392 351h1M509 351h3M232 352h69M381 352h44M516 352h1M235 353h62M415 353h43M520 353h1M555 353h44M232 354h63M433 354h12M448 354h23M633 354h1M635 354h26M232 355h65M467 355h16M661 355h14M162 356h13M230 356h9M269 356h29M474 356h19M178 357h16M227 357h5M290 357h11M491 357h10M502 357h1M195 358h21M222 358h5M297 358h7M504 358h6M304 359h6M512 359h4M575 359h73M162 360h12M310 360h7M517 360h4M553 360h21M619 360h56M162 361h32M317 361h32M645 361h30M178 362h32M359 362h28M201 363h18M391 363h22M213 364h14M249 364h3M414 364h24M220 365h12M233 365h38M441 365h15M229 366h84M467 366h21M230 367h90M497 367h4M230 368h150M506 368h3M232 369h77M319 369h24M371 369h32M512 369h2M232 370h71M385 370h45M517 370h2M232 371h66M409 371h56M587 371h55M232 372h65M433 372h8M456 372h18M641 372h24M230 373h19M251 373h47M470 373h18M664 373h11M162 374h20M229 374h4M266 374h34M484 374h13M185 375h23M223 375h6M293 375h10M497 375h9M210 376h14M301 376h8M507 376h5M162 377h6M307 377h7M514 377h3M553 377h2M573 377h102M162 378h20M314 378h10M519 378h2M628 378h47M168 379h33M333 379h22M645 379h25M185 380h31M364 380h34M204 381h19M400 381h30M216 382h14M249 382h1M436 382h15M223 383h49M273 383h1M461 383h19M230 384h84M484 384h10M230 385h129M499 385h2M232 386h148M506 386h3M232 387h72M368 387h37M512 387h2M235 388h66M384 388h39M517 388h2M553 388h14M235 389h63M299 389h1M401 389h69M629 389h28M232 390h68M427 390h1M429 390h7M464 390h20M658 390h16M162 391h7M230 391h15M266 391h35M474 391h19M174 392h17M227 392h5M293 392h10M491 392h10M195 393h32M298 393h8M501 393h8M304 394h6M510 394h4M597 394h28M162 395h7M310 395h7M516 395h3M553 395h122M162 396h23M317 396h29M520 396h1M635 396h40M174 397h24M351 397h14M187 398h26M372 398h32M405 398h1M198 399h23M410 399h28M211 400h1M213 400h17M246 400h15M442 400h14M224 401h56M468 401h17M230 402h83M491 402h8M232 403h145M501 403h3M232 404h169M509 404h3M232 405h71M382 405h51M514 405h2M232 406h68M407 406h55M519 406h1M559 406h79M232 407h66M455 407h19M641 407h23M232 408h17M252 408h48M470 408h18M662 408h13M162 409h10M230 409h6M277 409h24M481 409h16M174 410h26M226 410h4M294 410h10M496 410h8M203 411h21M300 411h7M506 411h6M306 412h7M513 412h3M565 412h70M672 412h3M162 413h17M180 413h1M311 413h8M517 413h3M615 413h60M162 414h39M320 414h29M638 414h37M188 415h26M355 415h19M204 416h17M387 416h22M214 417h13M412 417h26M220 418h10M246 418h7M442 418h19M226 419h51M477 419h14M229 420h87M497 420h3M230 421h150M504 421h3M232 422h72M321 422h22M367 422h41M510 422h3M232 423h69M384 423h46M516 423h1M232 424h67M417 424h47M520 424h1M597 424h51M232 425h66M455 425h23M648 425h17M230 426h12M272 426h28M471 426h20M664 426h11M162 427h16M227 427h5M291 427h10M490 427h11M178 428h26M223 428h6M297 428h7M501 428h8M198 429h1M200 429h23M303 429h6M509 429h4M596 429h19M162 430h17M309 430h7M514 430h3M553 430h122M162 431h37M316 431h24M519 431h2M625 431h50M187 432h20M346 432h13M655 432h1M657 432h2M197 433h16M367 433h23M204 434h15M396 434h34M213 435h12M433 435h1M435 435h13M220 436h10M249 436h13M263 436h1M456 436h22M227 437h87M483 437h13M229 438h103M500 438h3M230 439h76M318 439h57M507 439h2M232 440h69M367 440h45M513 440h1M232 441h68M393 441h44M517 441h2M553 441h22M576 441h1M232 442h66M420 442h50M626 442h32M232 443h68M462 443h21M658 443h14M162 444h6M230 444h15M266 444h35M474 444h19M674 444h1M172 445h16M227 445h5M294 445h9M490 445h10M190 446h27M223 446h4M300 446h7M501 446h6M306 447h5M509 447h4M162 448h17M310 448h7M514 448h5M553 448h122M168 449h26M317 449h19M520 449h1M631 449h37M182 450h25M345 450h14M197 451h22M370 451h24M395 451h1M210 452h16M403 452h32M219 453h11M441 453h15M224 454h58M283 454h2M286 454h1M288 454h3M467 454h17M229 455h94M491 455h8M230 456h138M501 456h3M232 457h69M333 457h19M353 457h33M509 457h1M232 458h66M379 458h46M514 458h2M235 459h60M390 459h71M519 459h1M567 459h75M233 460h62M430 460h13M451 460h21M644 460h18M232 461h65M470 461h18M662 461h13M162 462h15M230 462h12M278 462h22M485 462h12M181 463h17M227 463h5M293 463h10M497 463h9M200 464h27M300 464h6M507 464h5M304 465h7M513 465h4M583 465h35M640 465h20M661 465h14M162 466h17M310 466h7M519 466h2M561 466h26M607 466h68M168 467h30M317 467h32M185 468h25M355 468h19M200 469h20M387 469h39M213 470h16M248 470h7M428 470h14M224 471h49M447 471h17M230 472h63M304 472h7M312 472h1M477 472h11M232 473h123M496 473h4M232 474h72M319 474h58M504 474h3M232 475h68M369 475h35M510 475h3M233 476h64M387 476h46M516 476h1M232 477h65M410 477h55M520 477h1M612 477h43M232 478h66M459 478h15M657 478h13M162 479h1M230 479h12M264 479h36M470 479h18M670 479h5M166 480h18M227 480h5M291 480h10M485 480h14M188 481h23M223 481h6M297 481h7M499 481h8M213 482h10M301 482h6M509 482h4M595 482h36M162 483h10M306 483h8M514 483h5M553 483h122M162 484h26M314 484h19M520 484h1M636 484h39M174 485h30M340 485h13M647 485h20M184 486h32M362 486h35M200 487h21M401 487h28"/><path stroke="#ff8c00" d="M226 122h6M303 122h67M227 123h5M301 123h44M365 123h18M553 123h108M227 124h1M229 124h3M300 124h26M380 124h26M648 124h22M227 125h5M300 125h16M387 125h40M438 125h20M667 125h8M162 126h17M227 126h5M301 126h10M397 126h48M451 126h20M182 127h22M224 127h6M301 127h12M407 127h30M468 127h19M207 128h17M304 128h10M472 128h28M310 129h7M497 129h16M314 130h13M322 131h30M554 131h68M162 132h4M359 132h39M615 132h24M665 132h10M162 133h17M398 133h28M625 133h50M171 134h23M426 134h16M633 134h38M184 135h22M446 135h31M198 136h19M480 136h13M211 137h15M497 137h4M220 138h9M506 138h3M224 139h6M303 139h48M226 140h6M300 140h74M520 140h1M227 141h5M297 141h17M369 141h22M571 141h89M227 142h5M295 142h16M384 142h35M657 142h16M162 143h4M226 143h4M297 143h13M397 143h64M674 143h1M174 144h16M224 144h5M298 144h12M419 144h26M452 144h20M192 145h34M301 145h9M470 145h20M304 146h9M474 146h32M309 147h7M510 147h3M314 148h24M578 148h25M342 149h17M593 149h39M162 150h17M367 150h31M619 150h56M163 151h29M396 151h40M636 151h39M178 152h29M438 152h11M655 152h12M195 153h22M456 153h27M210 154h14M485 154h11M217 155h12M500 155h4M223 156h7M509 156h3M224 157h8M306 157h13M343 157h24M517 157h2M227 158h5M300 158h52M355 158h27M612 158h35M227 159h5M295 159h44M375 159h26M641 159h21M227 160h5M295 160h15M384 160h42M441 160h14M661 160h14M162 161h12M226 161h4M295 161h14M404 161h66M178 162h19M223 162h6M297 162h13M420 162h19M440 162h1M464 162h19M198 163h26M300 163h10M472 163h25M304 164h7M496 164h13M310 165h7M512 165h1M317 166h28M520 166h1M553 166h56M348 167h21M370 167h1M604 167h27M162 168h22M382 168h31M619 168h56M172 169h29M413 169h26M631 169h42M191 170h21M441 170h14M648 170h13M204 171h16M468 171h3M475 171h12M214 172h13M491 172h8M220 173h10M503 173h3M224 174h6M301 174h22M512 174h1M226 175h6M300 175h65M366 175h1M519 175h2M227 176h5M298 176h20M319 176h4M328 176h60M553 176h20M599 176h59M229 177h4M298 177h13M381 177h28M654 177h16M229 178h3M299 178h11M390 178h68M670 178h5M166 179h16M227 179h5M300 179h10M420 179h23M452 179h19M185 180h21M224 180h5M301 180h9M468 180h20M208 181h16M304 181h7M474 181h29M309 182h7M504 182h9M316 183h16M338 184h13M553 184h63M162 185h3M355 185h19M608 185h40M674 185h1M162 186h23M393 186h32M622 186h53M175 187h26M426 187h17M639 187h28M191 188h20M446 188h32M201 189h20M481 189h12M211 190h18M497 190h4M220 191h10M506 191h4M224 192h6M231 192h1M304 192h23M343 192h25M226 193h6M301 193h82M629 193h10M227 194h5M298 194h47M378 194h20M584 194h29M635 194h26M229 195h3M297 195h20M319 195h5M387 195h48M436 195h15M657 195h17M162 196h4M227 196h5M298 196h13M406 196h62M674 196h1M174 197h16M226 197h4M300 197h10M425 197h11M465 197h12M194 198h20M223 198h6M301 198h10M472 198h19M217 199h6M304 199h9M487 199h17M310 200h7M509 200h4M317 201h28M346 202h12M571 202h52M162 203h18M364 203h37M402 203h1M613 203h26M640 203h1M649 203h26M172 204h20M407 204h29M621 204h50M185 205h22M438 205h10M629 205h33M198 206h19M455 206h26M211 207h13M484 207h12M217 208h12M500 208h4M221 209h9M509 209h3M224 210h8M304 210h64M517 210h2M227 211h5M300 211h49M361 211h29M620 211h23M229 212h4M297 212h20M319 212h4M381 212h31M638 212h23M229 213h3M297 213h13M388 213h70M660 213h15M162 214h10M227 214h5M297 214h13M400 214h45M449 214h21M177 215h14M224 215h6M300 215h10M420 215h1M422 215h4M466 215h18M192 216h34M304 216h9M472 216h24M309 217h7M491 217h19M314 218h12M322 219h29M553 219h66M162 220h9M352 220h38M596 220h46M668 220h7M162 221h27M383 221h31M622 221h53M181 222h22M406 222h35M638 222h23M194 223h17M442 223h14M203 224h16M468 224h16M211 225h15M490 225h9M219 226h11M503 226h4M223 227h7M306 227h11M512 227h2M226 228h6M303 228h71M519 228h1M227 229h5M301 229h45M368 229h22M553 229h104M227 230h5M300 230h25M382 230h28M651 230h19M226 231h6M300 231h13M393 231h42M436 231h1M438 231h23M668 231h7M162 232h16M224 232h6M300 232h11M414 232h60M181 233h25M221 233h6M301 233h10M434 233h1M471 233h20M208 234h15M304 234h9M487 234h14M309 235h7M504 235h9M314 236h34M348 237h16M553 237h66M162 238h10M371 238h32M613 238h23M662 238h13M165 239h25M400 239h23M621 239h54M181 240h21M424 240h17M632 240h27M194 241h19M443 241h19M474 241h1M204 242h17M478 242h12M214 243h13M228 243h1M496 243h4M221 244h9M504 244h5M226 245h6M513 245h3M227 246h5M306 246h69M520 246h1M229 247h6M304 247h39M344 247h1M368 247h26M580 247h78M229 248h6M301 248h23M382 248h34M442 248h19M655 248h15M229 249h4M301 249h13M393 249h79M671 249h4M167 250h15M227 250h5M301 250h10M411 250h30M468 250h19M188 251h21M223 251h6M304 251h9M474 251h23M213 252h10M309 252h8M495 252h12M314 253h13M509 253h4M322 254h24M516 254h4M348 255h20M567 255h61M162 256h15M374 256h38M617 256h31M667 256h8M166 257h1M168 257h27M410 257h23M628 257h47M184 258h26M433 258h12M639 258h25M197 259h22M454 259h29M210 260h16M488 260h9M219 261h10M501 261h3M224 262h6M509 262h3M226 263h6M307 263h12M345 263h17M516 263h1M227 264h5M303 264h78M603 264h50M229 265h4M301 265h45M374 265h26M649 265h16M229 266h3M298 266h1M300 266h27M329 266h11M382 266h79M664 266h11M162 267h10M227 267h5M300 267h13M391 267h52M459 267h13M178 268h19M226 268h4M301 268h12M414 268h19M470 268h17M200 269h26M304 269h12M474 269h25M309 270h10M494 270h15M314 271h28M510 271h6M338 272h13M517 272h4M553 272h50M355 273h20M376 273h1M382 273h6M594 273h44M162 274h15M390 274h37M619 274h56M166 275h31M423 275h19M632 275h43M188 276h22M445 276h17M642 276h26M201 277h18M475 277h12M211 278h15M491 278h8M219 279h11M503 279h3M224 280h8M304 280h16M510 280h3M227 281h5M300 281h74M517 281h2M229 282h6M297 282h28M335 282h7M365 282h31M558 282h103M229 283h6M295 283h16M381 283h31M656 283h15M162 284h1M227 284h1M229 284h3M295 284h15M388 284h38M439 284h23M671 284h4M169 285h25M226 285h6M298 285h12M397 285h49M455 285h17M192 286h24M223 286h6M301 286h10M407 286h32M470 286h20M213 287h10M306 287h10M475 287h2M483 287h20M310 288h10M504 288h8M317 289h25M514 289h5M343 290h15M558 290h61M162 291h9M368 291h45M613 291h22M667 291h8M162 292h26M404 292h32M622 292h53M178 293h23M436 293h12M631 293h39M192 294h21M458 294h23M642 294h20M203 295h17M484 295h10M213 296h14M497 296h4M220 297h9M506 297h3M223 298h7M303 298h25M513 298h1M226 299h6M300 299h82M519 299h1M616 299h35M227 300h5M297 300h20M319 300h4M330 300h13M344 300h1M372 300h26M591 300h1M593 300h7M641 300h27M227 301h5M295 301h16M384 301h30M667 301h8M162 302h15M227 302h5M297 302h13M398 302h70M178 303h14M226 303h4M300 303h10M419 303h20M465 303h18M197 304h30M304 304h9M472 304h24M307 305h9M493 305h14M313 306h7M509 306h5M319 307h27M516 307h3M348 308h13M574 308h54M368 309h33M617 309h28M162 310h12M404 310h35M440 310h1M629 310h46M163 311h37M441 311h14M636 311h39M188 312h28M464 312h21M643 312h28M207 313h16M490 313h7M216 314h13M500 314h4M221 315h9M303 315h13M507 315h3M224 316h8M300 316h69M514 316h2M632 316h1M227 317h5M297 317h54M356 317h28M520 317h1M553 317h12M599 317h59M229 318h4M295 318h18M377 318h30M654 318h14M229 319h3M295 319h15M384 319h74M668 319h7M162 320h16M227 320h5M298 320h12M409 320h37M449 320h21M182 321h18M224 321h5M301 321h9M427 321h9M467 321h18M205 322h19M304 322h7M472 322h25M307 323h7M497 323h10M313 324h9M510 324h4M320 325h1M322 325h27M517 325h3M553 325h62M353 326h19M602 326h30M162 327h16M385 327h38M616 327h59M165 328h33M422 328h19M625 328h50M182 329h1M184 329h30M443 329h18M636 329h35M206 330h17M477 330h10M219 331h11M493 331h6M223 332h7M503 332h3M226 333h6M510 333h2M227 334h5M301 334h63M516 334h1M229 335h4M297 335h91M389 335h1M520 335h1M561 335h96M229 336h4M297 336h17M337 336h1M381 336h28M652 336h16M227 337h5M298 337h13M394 337h35M443 337h9M668 337h7M166 338h16M226 338h6M301 338h10M416 338h54M188 339h26M223 339h6M304 339h10M466 339h21M216 340h7M307 340h9M472 340h27M311 341h9M496 341h14M317 342h22M512 342h4M340 343h13M517 343h4M553 343h67M162 344h12M361 344h37M615 344h60M166 345h26M401 345h34M625 345h50M185 346h21M432 346h13M636 346h26M197 347h20M449 347h31M210 348h16M483 348h10M220 349h10M497 349h4M224 350h8M506 350h3M226 351h6M304 351h31M352 351h1M512 351h2M227 352h5M301 352h80M517 352h2M229 353h6M297 353h19M332 353h16M374 353h41M599 353h65M227 354h1M229 354h3M295 354h16M391 354h42M445 354h3M661 354h14M162 355h9M227 355h5M297 355h13M417 355h50M175 356h17M224 356h6M298 356h12M425 356h16M462 356h12M194 357h33M301 357h9M471 357h20M216 358h6M304 358h9M474 358h3M485 358h19M310 359h7M318 359h1M506 359h6M317 360h29M347 360h1M514 360h3M574 360h45M349 361h22M384 361h6M520 361h1M610 361h35M162 362h16M387 362h29M628 362h47M168 363h33M413 363h25M638 363h37M190 364h23M438 364h11M651 364h10M203 365h17M456 365h28M213 366h16M488 366h11M220 367h10M501 367h3M224 368h6M509 368h1M224 369h8M309 369h10M343 369h28M514 369h2M226 370h6M303 370h49M362 370h23M519 370h1M553 370h98M227 371h5M298 371h44M381 371h28M642 371h25M226 372h6M297 372h16M390 372h43M441 372h15M665 372h10M162 373h16M226 373h4M298 373h12M403 373h67M182 374h25M223 374h6M300 374h11M422 374h17M467 374h17M208 375h15M303 375h10M472 375h25M309 376h7M494 376h13M314 377h12M509 377h5M324 378h27M516 378h3M553 378h75M162 379h6M355 379h49M615 379h30M670 379h5M162 380h23M398 380h35M434 380h1M628 380h47M172 381h32M430 381h15M639 381h35M194 382h22M451 382h27M207 383h16M480 383h10M219 384h11M494 384h5M224 385h6M501 385h3M227 386h5M509 386h1M229 387h3M304 387h64M514 387h2M229 388h6M301 388h83M519 388h1M567 388h93M229 389h6M298 389h1M300 389h45M374 389h27M657 389h16M162 390h3M229 390h3M300 390h17M318 390h2M382 390h45M428 390h1M436 390h28M674 390h1M169 391h18M226 391h4M301 391h12M391 391h54M458 391h16M191 392h36M303 392h10M470 392h21M306 393h8M472 393h29M310 394h9M503 394h7M317 395h28M512 395h4M346 396h15M517 396h3M561 396h74M162 397h12M365 397h45M411 397h1M617 397h58M165 398h22M404 398h1M406 398h32M632 398h43M179 399h19M438 399h10M190 400h21M212 400h1M456 400h27M201 401h23M485 401h11M216 402h14M499 402h2M223 403h9M504 403h3M226 404h6M512 404h1M227 405h5M303 405h79M516 405h1M620 405h27M229 406h3M300 406h49M372 406h1M374 406h33M520 406h1M638 406h29M229 407h3M298 407h24M385 407h70M664 407h11M162 408h7M227 408h5M300 408h13M404 408h66M172 409h20M224 409h6M301 409h10M425 409h13M465 409h16M200 410h26M304 410h9M472 410h24M307 411h9M494 411h1M496 411h10M313 412h11M507 412h6M319 413h29M514 413h3M545 413h4M553 413h62M349 414h15M519 414h2M545 414h4M606 414h32M162 415h26M374 415h39M545 415h4M622 415h53M169 416h1M171 416h33M409 416h29M632 416h41M191 417h23M438 417h14M204 418h16M461 418h24M211 419h15M491 419h8M217 420h12M500 420h4M221 421h9M507 421h2M226 422h6M304 422h17M343 422h24M513 422h1M227 423h5M301 423h83M517 423h2M553 423h20M588 423h64M229 424h3M299 424h46M375 424h42M648 424h19M227 425h5M298 425h16M384 425h71M665 425h10M162 426h12M226 426h4M300 426h11M414 426h1M416 426h30M448 426h23M178 427h23M222 427h5M301 427h10M468 427h22M204 428h19M304 428h10M474 428h27M309 429h8M501 429h8M316 430h23M510 430h4M340 431h13M516 431h3M553 431h72M162 432h25M359 432h35M520 432h1M617 432h38M656 432h1M659 432h16M165 433h32M390 433h45M629 433h46M184 434h20M430 434h15M638 434h27M195 435h18M448 435h30M206 436h14M478 436h13M214 437h13M496 437h4M221 438h8M503 438h3M224 439h6M306 439h12M509 439h3M227 440h5M301 440h66M514 440h2M626 440h19M229 441h3M300 441h52M354 441h39M519 441h1M575 441h1M577 441h84M229 442h3M298 442h16M382 442h38M658 442h13M162 443h1M227 443h5M300 443h11M399 443h63M672 443h3M168 444h16M226 444h4M301 444h10M410 444h35M458 444h16M188 445h26M221 445h6M303 445h10M418 445h21M471 445h19M217 446h6M307 446h9M475 446h2M480 446h21M311 447h8M501 447h8M317 448h15M512 448h2M162 449h6M336 449h15M517 449h3M565 449h66M668 449h7M162 450h20M359 450h32M617 450h58M172 451h25M394 451h1M396 451h37M629 451h41M187 452h23M435 452h11M641 452h20M200 453h19M456 453h25M210 454h14M484 454h10M217 455h12M499 455h2M223 456h7M504 456h3M226 457h6M301 457h32M352 457h1M510 457h3M227 458h5M298 458h81M516 458h1M617 458h32M229 459h6M295 459h16M371 459h19M520 459h1M642 459h22M229 460h4M295 460h15M381 460h49M443 460h8M662 460h13M162 461h9M229 461h3M297 461h13M384 461h86M177 462h17M226 462h4M300 462h10M393 462h48M465 462h20M198 463h29M303 463h8M474 463h23M306 464h8M497 464h10M311 465h8M509 465h4M317 466h29M514 466h5M553 466h8M587 466h20M162 467h6M349 467h19M520 467h1M590 467h85M162 468h23M374 468h53M622 468h53M174 469h26M426 469h15M190 470h23M442 470h13M206 471h18M464 471h21M219 472h11M488 472h9M224 473h8M500 473h3M227 474h5M304 474h15M507 474h2M227 475h5M300 475h69M513 475h1M229 476h4M297 476h49M367 476h20M517 476h2M553 476h103M229 477h3M297 477h16M382 477h28M655 477h15M227 478h5M298 478h13M391 478h68M670 478h5M163 479h16M226 479h4M300 479h10M403 479h42M451 479h19M184 480h27M221 480h6M301 480h10M412 480h26M465 480h20M211 481h12M304 481h9M471 481h28M307 482h9M500 482h9M314 483h22M512 483h2M333 484h18M517 484h3M557 484h79M162 485h12M353 485h47M545 485h8M620 485h27M667 485h8M162 486h22M397 486h32M545 486h8M627 486h48M166 487h34M429 487h14M631 487h44"/><path stroke="#ff5a00" d="M210 122h16M607 122h68M214 123h13M345 123h20M661 123h14M217 124h10M228 124h1M326 124h54M670 124h5M162 125h20M214 125h13M316 125h35M368 125h19M179 126h48M311 126h35M378 126h19M445 126h6M204 127h20M313 127h32M382 127h25M437 127h31M314 128h31M384 128h61M459 128h13M317 129h31M385 129h56M467 129h30M327 130h25M382 130h56M470 130h43M352 131h84M472 131h27M553 131h1M398 132h41M474 132h20M575 132h40M426 133h17M472 133h21M604 133h21M162 134h9M442 134h51M615 134h18M671 134h4M162 135h22M477 135h19M619 135h56M169 136h29M493 136h7M623 136h52M184 137h27M501 137h5M626 137h47M200 138h20M509 138h3M625 138h43M210 139h14M620 139h48M214 140h12M602 140h68M217 141h10M314 141h55M660 141h15M217 142h10M311 142h73M673 142h2M166 143h25M210 143h16M310 143h38M374 143h23M190 144h34M310 144h33M381 144h38M445 144h7M310 145h32M384 145h86M313 146h30M385 146h61M459 146h15M316 147h30M385 147h56M468 147h42M338 148h18M382 148h56M471 148h30M359 149h80M474 149h23M553 149h40M398 150h44M478 150h15M586 150h33M162 151h1M436 151h10M472 151h21M610 151h26M162 152h16M449 152h45M619 152h36M667 152h8M162 153h33M483 153h14M623 153h52M177 154h33M496 154h5M626 154h49M191 155h26M504 155h5M626 155h47M198 156h25M512 156h2M623 156h45M201 157h23M519 157h2M613 157h57M206 158h21M352 158h3M553 158h59M647 158h26M211 159h16M339 159h36M662 159h13M162 160h10M173 160h1M207 160h20M310 160h74M174 161h52M309 161h40M369 161h35M197 162h26M310 162h33M381 162h39M439 162h1M441 162h23M310 163h32M384 163h88M311 164h32M387 164h59M461 164h35M317 165h31M384 165h58M470 165h42M345 166h23M380 166h59M472 166h29M513 166h7M369 167h1M371 167h68M476 167h20M553 167h51M413 168h29M474 168h19M597 168h22M162 169h10M439 169h10M471 169h22M610 169h21M673 169h2M162 170h29M455 170h41M617 170h31M661 170h14M174 171h30M487 171h12M622 171h53M191 172h23M499 172h4M625 172h49M201 173h19M506 173h4M625 173h45M207 174h17M620 174h48M211 175h15M609 175h62M214 176h13M318 176h1M323 176h5M573 176h26M658 176h16M219 177h10M311 177h70M670 177h5M162 178h20M217 178h12M310 178h42M355 178h35M182 179h45M310 179h33M378 179h42M443 179h9M206 180h18M310 180h32M382 180h86M311 181h31M385 181h60M459 181h15M316 182h29M387 182h54M468 182h36M332 183h19M385 183h53M471 183h42M351 184h17M381 184h55M474 184h25M374 185h65M480 185h14M562 185h46M425 186h18M474 186h19M596 186h26M162 187h13M443 187h50M609 187h30M667 187h8M163 188h28M478 188h19M619 188h56M174 189h27M493 189h7M623 189h52M183 190h28M501 190h5M626 190h45M192 191h28M510 191h3M625 191h45M201 192h23M620 192h51M210 193h16M553 193h76M639 193h35M216 194h11M345 194h33M661 194h14M162 195h3M219 195h10M317 195h2M324 195h63M674 195h1M166 196h21M216 196h11M311 196h40M375 196h31M190 197h36M310 197h36M381 197h44M436 197h29M214 198h9M311 198h32M384 198h88M313 199h32M387 199h56M465 199h22M317 200h31M387 200h52M471 200h38M345 201h10M385 201h51M472 201h29M358 202h80M474 202h22M553 202h18M401 203h1M403 203h38M475 203h18M577 203h36M162 204h10M436 204h10M471 204h22M603 204h18M671 204h4M162 205h23M448 205h46M612 205h17M662 205h13M172 206h26M481 206h16M616 206h59M188 207h23M496 207h5M620 207h54M199 208h18M504 208h3M623 208h47M205 209h16M512 209h2M622 209h45M210 210h14M519 210h2M617 210h51M213 211h14M349 211h12M553 211h67M643 211h27M217 212h12M317 212h2M323 212h58M661 212h14M162 213h7M217 213h12M310 213h41M366 213h22M172 214h22M211 214h16M310 214h35M377 214h23M445 214h4M191 215h33M310 215h33M381 215h39M421 215h1M426 215h40M313 216h30M384 216h62M451 216h21M316 217h30M385 217h57M465 217h26M326 218h26M382 218h57M471 218h42M351 219h87M474 219h25M390 220h51M478 220h16M554 220h42M414 221h29M480 221h13M586 221h36M162 222h19M441 222h11M474 222h19M604 222h34M661 222h14M174 223h20M456 223h40M617 223h58M184 224h19M484 224h15M622 224h49M191 225h20M499 225h4M625 225h43M198 226h21M507 226h3M625 226h42M204 227h19M514 227h3M620 227h47M210 228h16M520 228h1M609 228h62M214 229h13M346 229h22M657 229h18M216 230h11M325 230h57M670 230h5M162 231h17M212 231h14M313 231h39M372 231h21M178 232h46M311 232h37M381 232h33M206 233h15M311 233h34M384 233h50M435 233h36M313 234h33M385 234h60M464 234h23M316 235h36M385 235h54M471 235h33M348 236h19M381 236h55M474 236h39M364 237h72M477 237h20M517 237h4M403 238h35M480 238h14M561 238h52M162 239h3M423 239h18M478 239h15M603 239h18M162 240h19M441 240h13M471 240h22M610 240h22M659 240h16M172 241h22M462 241h12M475 241h21M616 241h59M181 242h23M490 242h9M622 242h51M188 243h26M500 243h4M625 243h45M198 244h23M509 244h3M623 244h44M208 245h18M516 245h1M620 245h47M216 246h11M553 246h20M599 246h69M220 247h9M343 247h1M345 247h23M658 247h16M220 248h9M324 248h58M670 248h5M162 249h17M219 249h10M314 249h35M368 249h25M182 250h45M311 250h34M380 250h31M441 250h27M209 251h14M313 251h32M382 251h92M317 252h29M384 252h59M468 252h27M327 253h24M381 253h58M472 253h37M346 254h92M477 254h24M502 254h1M507 254h9M368 255h70M480 255h16M519 255h2M553 255h14M412 256h29M480 256h13M571 256h46M162 257h4M167 257h1M433 257h12M477 257h16M607 257h21M162 258h22M445 258h49M616 258h23M664 258h11M171 259h26M483 259h14M620 259h55M184 260h26M497 260h6M625 260h50M195 261h24M504 261h5M625 261h45M206 262h18M512 262h2M622 262h45M213 263h13M517 263h2M612 263h56M217 264h10M553 264h50M653 264h18M219 265h10M346 265h28M665 265h10M162 266h6M219 266h10M327 266h2M340 266h42M172 267h28M214 267h13M313 267h50M367 267h24M443 267h16M197 268h29M313 268h39M380 268h34M433 268h37M316 269h33M382 269h61M464 269h10M319 270h32M384 270h57M468 270h26M342 271h11M382 271h56M471 271h39M351 272h87M474 272h27M509 272h8M375 273h1M377 273h5M388 273h51M478 273h16M520 273h1M553 273h41M427 274h16M475 274h18M586 274h33M162 275h4M442 275h14M471 275h22M603 275h29M162 276h26M462 276h34M617 276h25M668 276h7M174 277h27M487 277h12M623 277h52M185 278h26M499 278h4M626 278h48M192 279h27M506 279h3M625 279h46M200 280h24M513 280h3M620 280h50M207 281h20M519 281h1M594 281h77M213 282h16M325 282h10M342 282h23M661 282h14M214 283h1M216 283h13M311 283h70M671 283h4M163 284h64M228 284h1M310 284h78M194 285h32M310 285h38M378 285h19M446 285h9M216 286h7M311 286h34M382 286h25M439 286h31M316 287h29M384 287h62M461 287h14M477 287h6M320 288h28M384 288h58M470 288h34M342 289h13M378 289h61M471 289h43M358 290h81M474 290h25M516 290h5M553 290h5M413 291h29M474 291h20M567 291h46M436 292h10M472 292h21M603 292h19M162 293h16M448 293h46M612 293h19M670 293h5M162 294h30M481 294h16M617 294h25M662 294h13M174 295h29M494 295h6M622 295h53M187 296h26M501 296h5M623 296h51M198 297h22M509 297h3M620 297h48M669 297h1M206 298h17M514 298h3M613 298h57M211 299h15M520 299h1M553 299h63M651 299h24M216 300h11M317 300h2M323 300h7M343 300h1M345 300h27M668 300h7M162 301h17M219 301h8M311 301h73M177 302h17M216 302h11M310 302h38M368 302h30M192 303h34M310 303h33M380 303h39M439 303h26M313 304h30M384 304h62M449 304h23M316 305h29M387 305h55M465 305h28M320 306h28M387 306h52M470 306h39M346 307h12M384 307h54M472 307h31M507 307h9M361 308h78M477 308h19M517 308h4M553 308h21M401 309h42M480 309h13M577 309h40M439 310h1M441 310h13M472 310h21M604 310h25M162 311h1M455 311h39M613 311h23M162 312h26M485 312h12M619 312h24M671 312h4M168 313h39M497 313h4M622 313h53M188 314h28M504 314h3M622 314h52M200 315h21M510 315h3M617 315h53M206 316h18M516 316h3M607 316h25M633 316h38M211 317h16M351 317h5M565 317h34M658 317h16M217 318h12M313 318h64M668 318h7M162 319h15M217 319h12M310 319h74M178 320h49M310 320h35M377 320h32M446 320h3M200 321h24M310 321h33M382 321h45M436 321h31M311 322h31M385 322h87M314 323h31M387 323h56M467 323h30M322 324h27M387 324h52M471 324h39M349 325h16M382 325h56M474 325h25M512 325h5M372 326h67M475 326h19M519 326h2M555 326h47M423 327h19M474 327h19M590 327h26M162 328h3M441 328h14M470 328h23M603 328h22M162 329h20M183 329h1M461 329h35M615 329h21M671 329h4M162 330h44M487 330h12M620 330h55M171 331h48M499 331h4M625 331h50M200 332h23M506 332h3M623 332h51M208 333h18M512 333h2M619 333h51M213 334h14M517 334h2M599 334h72M217 335h12M657 335h17M219 336h10M314 336h23M338 336h43M668 336h7M162 337h17M216 337h11M311 337h83M182 338h44M311 338h37M380 338h36M214 339h9M314 339h31M384 339h82M316 340h29M385 340h61M454 340h18M320 341h26M387 341h54M468 341h28M339 342h13M384 342h54M471 342h41M353 343h85M474 343h25M513 343h4M398 344h43M475 344h19M519 344h2M578 344h1M580 344h35M162 345h4M435 345h10M472 345h21M604 345h21M162 346h23M445 346h49M615 346h21M662 346h13M177 347h20M480 347h17M620 347h55M187 348h23M493 348h7M625 348h48M195 349h25M501 349h3M626 349h45M206 350h18M509 350h1M625 350h45M211 351h15M514 351h2M620 351h51M216 352h11M519 352h1M553 352h120M217 353h12M316 353h16M348 353h26M664 353h11M162 354h6M217 354h10M228 354h1M311 354h80M171 355h23M209 355h18M310 355h43M369 355h48M192 356h32M310 356h39M381 356h44M441 356h21M310 357h36M384 357h87M313 358h35M385 358h61M458 358h16M477 358h8M317 359h1M319 359h32M384 359h59M468 359h38M346 360h1M348 360h19M373 360h68M471 360h43M371 361h13M390 361h51M474 361h22M516 361h4M553 361h57M416 362h27M474 362h19M588 362h40M162 363h6M438 363h13M471 363h22M612 363h26M162 364h28M449 364h47M617 364h34M661 364h14M175 365h28M484 365h15M620 365h55M188 366h25M499 366h4M622 366h51M197 367h23M504 367h3M622 367h46M204 368h20M510 368h3M620 368h47M210 369h14M516 369h1M609 369h61M213 370h13M352 370h10M520 370h1M651 370h23M216 371h11M342 371h39M667 371h8M162 372h15M212 372h14M313 372h39M368 372h22M178 373h48M310 373h36M380 373h23M207 374h16M311 374h32M382 374h40M439 374h28M313 375h30M384 375h88M316 376h29M384 376h59M467 376h27M326 377h25M381 377h58M471 377h38M351 378h88M472 378h28M509 378h7M404 379h38M474 379h20M517 379h4M555 379h60M433 380h1M435 380h11M472 380h21M599 380h29M162 381h10M445 381h48M610 381h29M674 381h1M162 382h32M478 382h18M617 382h58M179 383h28M490 383h9M623 383h52M194 384h25M499 384h4M626 384h42M206 385h18M504 385h3M625 385h40M214 386h13M510 386h3M620 386h47M219 387h10M516 387h1M594 387h76M220 388h9M520 388h1M660 388h15M162 389h1M221 389h8M345 389h29M673 389h2M165 390h20M219 390h10M317 390h1M320 390h62M187 391h39M313 391h36M369 391h22M445 391h13M313 392h32M380 392h90M314 393h32M384 393h61M457 393h15M319 394h30M385 394h56M464 394h39M345 395h16M384 395h54M470 395h42M361 396h78M472 396h27M513 396h4M553 396h8M410 397h1M412 397h30M473 397h21M519 397h2M573 397h44M162 398h3M438 398h8M471 398h22M604 398h28M162 399h17M448 399h46M616 399h59M169 400h21M483 400h14M620 400h55M178 401h23M496 401h4M625 401h46M185 402h31M501 402h4M626 402h42M194 403h29M507 403h3M623 403h45M206 404h20M513 404h1M619 404h52M213 405h14M517 405h2M553 405h21M586 405h34M647 405h28M217 406h12M349 406h23M373 406h1M667 406h8M162 407h7M219 407h10M322 407h63M169 408h22M211 408h16M313 408h38M372 408h1M374 408h30M192 409h32M311 409h34M382 409h43M438 409h27M313 410h30M385 410h87M316 411h29M387 411h58M462 411h32M495 411h1M324 412h25M387 412h55M470 412h37M348 413h13M382 413h57M440 413h1M471 413h43M549 413h4M364 414h77M474 414h23M514 414h5M549 414h57M413 415h30M474 415h19M549 415h4M591 415h31M162 416h7M170 416h1M438 416h11M471 416h22M606 416h26M673 416h2M162 417h29M452 417h42M613 417h62M174 418h30M485 418h14M617 418h58M185 419h26M499 419h2M622 419h51M191 420h26M504 420h3M622 420h46M198 421h23M509 421h3M619 421h48M206 422h20M514 422h2M604 422h66M214 423h13M519 423h1M573 423h15M652 423h21M217 424h12M345 424h30M667 424h8M162 425h12M216 425h11M314 425h70M174 426h52M311 426h37M371 426h43M415 426h1M446 426h2M201 427h21M311 427h32M381 427h87M314 428h29M384 428h61M454 428h20M317 429h31M385 429h56M465 429h36M339 430h14M382 430h56M470 430h40M353 431h86M472 431h28M509 431h7M394 432h48M474 432h20M517 432h3M559 432h58M162 433h3M435 433h11M471 433h22M604 433h25M162 434h22M445 434h48M615 434h23M665 434h10M168 435h27M478 435h18M620 435h55M179 436h27M491 436h8M622 436h53M191 437h23M500 437h3M625 437h46M201 438h20M506 438h3M620 438h48M210 439h14M512 439h1M615 439h53M214 440h13M516 440h1M583 440h43M645 440h25M217 441h12M352 441h2M520 441h1M661 441h13M219 442h10M314 442h68M671 442h4M163 443h16M216 443h11M311 443h88M184 444h42M311 444h37M380 444h30M445 444h13M214 445h7M313 445h30M384 445h34M439 445h32M316 446h27M387 446h59M462 446h13M477 446h3M319 447h26M387 447h56M470 447h31M332 448h19M385 448h54M472 448h40M351 449h87M474 449h25M512 449h5M553 449h12M391 450h50M478 450h15M519 450h2M566 450h51M162 451h10M433 451h12M472 451h21M586 451h43M670 451h5M162 452h25M446 452h48M612 452h29M661 452h14M169 453h31M481 453h16M617 453h58M181 454h29M494 454h6M620 454h54M191 455h26M501 455h3M622 455h46M200 456h23M507 456h3M620 456h47M208 457h18M513 457h1M615 457h53M216 458h11M517 458h2M553 458h64M649 458h22M220 459h9M311 459h60M664 459h11M162 460h6M220 460h9M310 460h71M171 461h23M219 461h10M310 461h38M368 461h16M194 462h32M310 462h33M344 462h1M377 462h16M441 462h24M311 463h32M381 463h93M314 464h31M384 464h59M467 464h30M319 465h30M384 465h55M471 465h38M346 466h25M380 466h58M474 466h25M510 466h4M368 467h71M478 467h18M516 467h4M553 467h37M427 468h15M474 468h19M578 468h44M162 469h12M441 469h10M471 469h22M606 469h69M163 470h27M455 470h39M617 470h1M619 470h56M174 471h32M485 471h12M623 471h52M192 472h27M497 472h4M626 472h44M204 473h1M206 473h18M503 473h3M626 473h41M211 474h16M509 474h3M619 474h46M216 475h11M514 475h2M602 475h66M217 476h12M346 476h21M519 476h1M656 476h17M219 477h10M313 477h69M670 477h5M162 478h16M216 478h11M311 478h38M374 478h17M179 479h47M310 479h36M381 479h22M445 479h6M211 480h10M311 480h34M384 480h28M438 480h27M313 481h32M385 481h86M316 482h32M385 482h58M464 482h36M336 483h16M383 483h58M470 483h42M351 484h88M472 484h27M513 484h4M553 484h4M400 485h41M474 485h20M519 485h2M568 485h52M429 486h16M472 486h21M603 486h24M162 487h4M443 487h50M612 487h19"/><path stroke="#ff2800" d="M162 122h48M565 122h42M162 123h52M162 124h55M182 125h32M351 125h17M346 126h32M345 127h37M345 128h39M445 128h14M348 129h37M441 129h26M352 130h30M438 130h32M436 131h36M499 131h14M439 132h35M494 132h15M520 132h1M553 132h22M443 133h29M493 133h14M564 133h40M493 134h14M590 134h25M496 135h11M597 135h22M162 136h7M500 136h7M599 136h24M162 137h22M506 137h4M600 137h26M673 137h2M162 138h38M512 138h1M599 138h26M668 138h7M165 139h45M596 139h24M668 139h7M162 140h52M553 140h49M670 140h5M162 141h55M162 142h55M191 143h19M348 143h26M343 144h38M342 145h42M343 146h42M446 146h13M346 147h39M441 147h27M356 148h26M438 148h33M501 148h12M439 149h35M497 149h24M442 150h36M493 150h16M553 150h33M446 151h26M493 151h14M562 151h48M494 152h13M593 152h26M497 153h10M599 153h24M162 154h15M501 154h8M600 154h26M162 155h29M509 155h3M600 155h26M673 155h2M162 156h36M514 156h3M599 156h24M668 156h7M162 157h39M589 157h24M670 157h5M162 158h44M673 158h2M162 159h49M172 160h1M174 160h33M349 161h20M343 162h38M342 163h42M343 164h44M446 164h15M348 165h36M442 165h28M368 166h12M439 166h33M501 166h12M439 167h37M496 167h25M442 168h32M493 168h16M553 168h44M449 169h22M493 169h14M574 169h36M496 170h11M596 170h21M162 171h12M499 171h8M599 171h23M162 172h29M503 172h6M600 172h25M674 172h1M162 173h39M510 173h3M600 173h25M670 173h5M162 174h45M599 174h21M668 174h7M162 175h49M558 175h6M584 175h25M671 175h4M162 176h52M674 176h1M162 177h57M182 178h35M352 178h3M343 179h35M342 180h40M342 181h43M445 181h14M345 182h42M441 182h27M351 183h34M438 183h33M368 184h13M436 184h38M499 184h14M439 185h41M494 185h15M553 185h9M443 186h31M493 186h14M561 186h35M493 187h14M581 187h28M162 188h1M497 188h10M591 188h28M162 189h12M500 189h7M599 189h24M162 190h21M506 190h4M600 190h26M671 190h4M162 191h30M599 191h26M670 191h5M162 192h39M591 192h29M671 192h4M162 193h48M674 193h1M162 194h54M165 195h54M187 196h29M351 196h24M346 197h35M343 198h41M345 199h42M443 199h22M348 200h39M439 200h32M355 201h30M436 201h36M501 201h12M438 202h36M496 202h25M441 203h34M493 203h16M553 203h24M446 204h25M493 204h14M564 204h39M494 205h13M588 205h24M162 206h10M497 206h10M596 206h20M162 207h26M501 207h8M599 207h21M674 207h1M162 208h37M507 208h5M600 208h23M670 208h5M163 209h42M514 209h3M597 209h25M667 209h8M166 210h44M581 210h36M668 210h7M162 211h51M670 211h5M162 212h55M169 213h48M351 213h15M194 214h17M345 214h32M343 215h38M343 216h41M446 216h5M346 217h39M442 217h23M352 218h30M439 218h32M438 219h36M499 219h14M441 220h37M494 220h16M516 220h5M553 220h1M443 221h37M493 221h16M554 221h32M452 222h22M493 222h14M574 222h30M162 223h12M496 223h11M588 223h29M162 224h22M499 224h8M597 224h25M671 224h4M162 225h29M503 225h6M600 225h25M668 225h7M162 226h36M510 226h3M600 226h25M667 226h8M163 227h41M517 227h3M597 227h23M667 227h8M162 228h48M553 228h56M671 228h4M162 229h52M162 230h54M179 231h33M352 231h20M348 232h33M345 233h39M346 234h39M445 234h19M352 235h33M439 235h32M367 236h14M436 236h38M436 237h41M497 237h20M438 238h42M494 238h15M519 238h2M553 238h8M441 239h37M493 239h14M559 239h44M454 240h17M493 240h14M586 240h24M162 241h10M496 241h11M596 241h20M162 242h19M499 242h8M599 242h23M673 242h2M162 243h26M504 243h5M600 243h25M670 243h5M162 244h36M512 244h2M599 244h24M667 244h8M166 245h42M517 245h3M596 245h24M667 245h8M162 246h54M573 246h26M668 246h7M162 247h58M674 247h1M162 248h58M179 249h40M349 249h19M345 250h35M345 251h37M346 252h38M443 252h25M351 253h30M439 253h33M438 254h39M501 254h1M503 254h4M438 255h42M496 255h23M441 256h39M493 256h16M519 256h2M553 256h18M445 257h32M493 257h14M562 257h45M494 258h13M591 258h25M162 259h9M497 259h10M599 259h21M162 260h22M503 260h6M600 260h25M162 261h33M509 261h3M600 261h25M670 261h5M162 262h44M514 262h2M597 262h25M667 262h8M165 263h48M519 263h2M583 263h29M668 263h7M162 264h55M671 264h4M162 265h57M168 266h51M200 267h14M363 267h4M352 268h28M349 269h33M443 269h21M351 270h33M441 270h27M353 271h29M438 271h33M438 272h36M501 272h8M439 273h39M494 273h26M443 274h32M493 274h16M520 274h1M553 274h33M456 275h15M493 275h14M573 275h30M496 276h11M590 276h27M162 277h12M499 277h8M599 277h24M162 278h23M503 278h6M600 278h26M674 278h1M162 279h30M509 279h4M599 279h26M671 279h4M162 280h38M516 280h1M593 280h27M670 280h5M162 281h45M520 281h1M553 281h41M671 281h4M162 282h51M162 283h52M215 283h1M348 285h30M345 286h37M345 287h39M446 287h15M348 288h36M442 288h28M355 289h23M439 289h32M439 290h35M499 290h17M442 291h32M494 291h16M516 291h5M553 291h14M446 292h26M493 292h14M561 292h42M494 293h13M586 293h26M497 294h10M596 294h21M162 295h12M500 295h7M599 295h23M162 296h25M506 296h4M600 296h23M674 296h1M162 297h36M512 297h2M599 297h21M668 297h1M670 297h5M162 298h44M517 298h2M590 298h23M670 298h5M162 299h49M162 300h54M179 301h40M194 302h22M348 302h20M343 303h37M343 304h41M446 304h3M345 305h42M442 305h23M348 306h39M439 306h31M358 307h26M438 307h34M503 307h4M439 308h38M496 308h21M443 309h37M493 309h16M519 309h2M553 309h24M454 310h18M493 310h14M570 310h34M494 311h13M590 311h23M497 312h10M597 312h22M162 313h6M501 313h8M599 313h23M162 314h26M507 314h3M599 314h23M674 314h1M162 315h38M513 315h1M597 315h20M670 315h5M162 316h44M519 316h1M580 316h27M671 316h4M162 317h49M674 317h1M162 318h55M177 319h40M345 320h32M343 321h39M342 322h43M345 323h42M443 323h24M349 324h38M439 324h32M365 325h17M438 325h36M499 325h13M439 326h36M494 326h25M553 326h2M442 327h32M493 327h16M520 327h1M555 327h35M455 328h15M493 328h14M580 328h23M496 329h11M594 329h21M499 330h8M599 330h21M162 331h9M503 331h6M600 331h25M162 332h38M509 332h3M599 332h24M674 332h1M162 333h46M514 333h2M596 333h23M670 333h5M162 334h51M519 334h2M553 334h46M671 334h4M162 335h55M674 335h1M162 336h57M179 337h37M348 338h32M345 339h39M345 340h40M446 340h8M346 341h41M441 341h27M352 342h32M438 342h33M438 343h36M499 343h14M441 344h34M494 344h25M553 344h25M579 344h1M445 345h27M493 345h14M519 345h2M562 345h42M494 346h13M591 346h24M162 347h15M497 347h10M597 347h23M162 348h25M500 348h7M600 348h25M673 348h2M162 349h33M504 349h5M600 349h26M671 349h4M162 350h44M510 350h3M599 350h26M670 350h5M162 351h49M516 351h1M593 351h27M671 351h4M162 352h54M520 352h1M673 352h2M162 353h55M168 354h49M194 355h15M353 355h16M349 356h32M346 357h38M348 358h37M446 358h12M351 359h33M443 359h25M367 360h6M441 360h30M441 361h33M496 361h20M443 362h31M493 362h16M514 362h7M553 362h35M451 363h20M493 363h14M573 363h39M496 364h11M591 364h26M162 365h13M499 365h8M597 365h23M162 366h26M503 366h6M600 366h22M673 366h2M162 367h35M507 367h5M600 367h22M668 367h7M162 368h42M513 368h1M596 368h24M667 368h8M162 369h48M517 369h2M561 369h48M670 369h5M162 370h51M674 370h1M162 371h54M177 372h35M352 372h16M346 373h34M343 374h39M343 375h41M345 376h39M443 376h24M351 377h30M439 377h32M439 378h33M500 378h9M442 379h32M494 379h23M553 379h2M446 380h26M493 380h16M517 380h4M557 380h42M493 381h14M583 381h27M496 382h11M593 382h24M162 383h17M499 383h8M597 383h26M162 384h32M503 384h6M600 384h26M668 384h7M162 385h44M507 385h3M599 385h26M665 385h10M165 386h49M513 386h1M593 386h27M667 386h8M162 387h57M517 387h2M553 387h41M670 387h5M162 388h58M163 389h58M185 390h34M349 391h20M345 392h35M346 393h38M445 393h12M349 394h36M441 394h23M361 395h23M438 395h32M439 396h33M499 396h14M442 397h31M494 397h25M553 397h20M446 398h25M493 398h16M519 398h2M565 398h39M494 399h13M593 399h23M162 400h7M497 400h10M599 400h21M162 401h16M500 401h7M600 401h25M671 401h4M162 402h23M505 402h4M600 402h26M668 402h7M162 403h32M510 403h3M599 403h24M668 403h7M162 404h44M514 404h3M595 404h24M671 404h4M162 405h51M519 405h2M574 405h12M162 406h55M169 407h50M191 408h20M351 408h21M373 408h1M345 409h37M343 410h42M345 411h42M445 411h17M349 412h38M442 412h28M361 413h21M439 413h1M441 413h30M441 414h33M497 414h17M443 415h31M493 415h16M514 415h7M558 415h33M449 416h22M493 416h14M577 416h29M494 417h13M587 417h26M162 418h12M499 418h8M594 418h23M162 419h23M501 419h8M599 419h23M673 419h2M162 420h29M507 420h3M599 420h23M668 420h7M163 421h35M512 421h1M596 421h23M667 421h8M162 422h44M516 422h1M577 422h27M670 422h5M162 423h52M520 423h1M673 423h2M162 424h55M174 425h42M348 426h23M343 427h38M343 428h41M445 428h9M348 429h37M441 429h24M353 430h29M438 430h32M439 431h33M500 431h9M442 432h32M494 432h23M553 432h6M446 433h25M493 433h16M516 433h5M559 433h45M493 434h14M587 434h28M162 435h6M496 435h11M596 435h24M162 436h17M499 436h8M599 436h23M162 437h29M503 437h6M600 437h25M671 437h4M162 438h39M509 438h3M599 438h21M668 438h7M163 439h47M513 439h3M591 439h24M668 439h7M162 440h52M517 440h3M553 440h30M670 440h5M162 441h55M674 441h1M162 442h57M179 443h37M348 444h32M343 445h41M343 446h44M446 446h16M345 447h42M443 447h27M351 448h34M439 448h33M438 449h36M499 449h13M441 450h37M493 450h26M553 450h13M445 451h27M493 451h14M519 451h2M561 451h25M494 452h13M575 452h37M162 453h7M497 453h10M590 453h27M162 454h19M500 454h7M599 454h21M674 454h1M162 455h29M504 455h5M600 455h22M668 455h7M162 456h38M510 456h3M597 456h23M667 456h8M165 457h43M514 457h3M586 457h29M668 457h7M162 458h54M519 458h2M671 458h4M162 459h58M168 460h52M194 461h25M348 461h20M343 462h1M345 462h32M343 463h38M345 464h39M443 464h24M349 465h35M439 465h32M371 466h9M438 466h36M499 466h11M439 467h39M496 467h20M442 468h32M493 468h16M517 468h4M553 468h25M451 469h20M493 469h14M570 469h36M162 470h1M494 470h13M586 470h31M618 470h1M162 471h12M497 471h10M597 471h26M162 472h30M501 472h8M600 472h26M670 472h5M162 473h42M205 473h1M506 473h4M599 473h27M667 473h8M165 474h46M512 474h1M593 474h26M665 474h10M165 475h51M516 475h1M559 475h43M668 475h7M162 476h55M520 476h1M673 476h2M162 477h57M178 478h38M349 478h25M346 479h35M345 480h39M345 481h40M348 482h37M443 482h21M352 483h31M441 483h29M439 484h33M499 484h14M441 485h33M494 485h25M553 485h15M445 486h27M493 486h16M519 486h2M562 486h41M493 487h14M583 487h29"/><path stroke="#ff1414" d="M553 122h12M509 132h11M507 133h6M553 133h11M507 134h6M553 134h37M507 135h6M555 135h42M507 136h6M557 136h42M510 137h3M557 137h43M555 138h44M162 139h3M553 139h43M509 150h12M507 151h6M553 151h9M507 152h6M553 152h40M507 153h6M555 153h44M509 154h4M557 154h43M512 155h1M557 155h43M517 156h4M555 156h44M553 157h36M509 168h4M507 169h6M553 169h21M507 170h6M554 170h42M507 171h6M557 171h42M509 172h4M557 172h43M513 173h6M557 173h43M554 174h45M553 175h5M564 175h20M509 185h4M507 186h6M553 186h8M507 187h6M553 187h28M507 188h6M555 188h36M507 189h6M557 189h42M510 190h3M557 190h43M555 191h44M553 192h38M509 203h12M507 204h6M553 204h11M507 205h6M553 205h35M507 206h6M555 206h41M509 207h4M557 207h42M512 208h7M557 208h43M162 209h1M517 209h4M555 209h42M162 210h4M553 210h28M510 220h6M509 221h12M553 221h1M507 222h12M553 222h21M507 223h10M554 223h34M507 224h10M557 224h40M509 225h8M557 225h43M513 226h6M557 226h43M162 227h1M520 227h1M554 227h43M509 238h10M507 239h6M553 239h6M507 240h6M553 240h33M507 241h10M555 241h41M507 242h10M557 242h42M509 243h8M557 243h43M514 244h5M555 244h44M162 245h4M520 245h1M553 245h43M509 256h10M507 257h6M553 257h9M507 258h6M553 258h38M507 259h6M555 259h44M509 260h8M557 260h43M512 261h5M557 261h43M516 262h4M555 262h42M162 263h3M553 263h30M509 274h11M507 275h14M553 275h20M507 276h10M554 276h36M507 277h10M557 277h42M509 278h8M557 278h43M513 279h6M557 279h42M517 280h3M554 280h39M510 291h6M507 292h14M553 292h8M507 293h12M553 293h33M507 294h10M555 294h41M507 295h10M557 295h42M510 296h7M557 296h43M514 297h5M555 297h44M519 298h2M553 298h37M509 309h10M507 310h14M553 310h17M507 311h12M554 311h36M507 312h10M555 312h42M509 313h8M557 313h42M510 314h7M557 314h42M514 315h5M555 315h42M520 316h1M553 316h27M509 327h11M553 327h2M507 328h14M553 328h27M507 329h10M555 329h39M507 330h10M557 330h42M509 331h8M557 331h43M512 332h5M557 332h42M516 333h3M554 333h42M507 345h12M553 345h9M507 346h14M553 346h38M507 347h10M555 347h42M507 348h10M557 348h43M509 349h8M557 349h43M513 350h6M555 350h44M517 351h3M553 351h40M509 362h5M507 363h14M553 363h20M507 364h14M554 364h37M507 365h10M555 365h42M509 366h8M557 366h43M512 367h5M557 367h43M514 368h5M555 368h41M519 369h2M553 369h8M509 380h8M553 380h4M507 381h14M553 381h30M507 382h12M555 382h38M507 383h10M557 383h40M509 384h8M557 384h43M510 385h7M557 385h42M162 386h3M514 386h5M554 386h39M519 387h2M509 398h10M553 398h12M507 399h14M553 399h40M507 400h10M555 400h44M507 401h10M557 401h43M509 402h8M557 402h43M513 403h4M555 403h44M517 404h3M553 404h42M509 415h5M553 415h5M507 416h14M553 416h24M507 417h14M554 417h33M507 418h10M555 418h39M509 419h8M557 419h42M510 420h7M557 420h42M162 421h1M513 421h6M555 421h41M517 422h3M553 422h24M509 433h7M553 433h6M507 434h14M553 434h34M507 435h12M555 435h41M507 436h10M557 436h42M509 437h8M557 437h43M512 438h5M555 438h44M162 439h1M516 439h3M553 439h38M520 440h1M507 451h12M553 451h8M507 452h14M553 452h22M507 453h10M555 453h35M507 454h10M557 454h42M509 455h8M557 455h43M513 456h6M555 456h42M162 457h3M517 457h3M553 457h33M509 468h8M507 469h14M553 469h17M507 470h14M554 470h32M507 471h10M555 471h42M509 472h8M557 472h43M510 473h7M557 473h42M162 474h3M513 474h6M555 474h38M162 475h3M517 475h3M553 475h6M509 486h10M553 486h9M507 487h14M553 487h30"/><path stroke="#ff4545" d="M553 135h2M553 136h4M553 137h4M553 138h2M553 153h2M553 154h4M553 155h4M553 156h2M553 170h1M553 171h4M553 172h4M519 173h2M553 173h4M553 174h1M553 188h2M553 189h4M553 190h4M553 191h2M553 206h2M553 207h4M519 208h2M553 208h4M553 209h2M519 222h2M517 223h4M553 223h1M517 224h4M553 224h4M517 225h4M553 225h4M519 226h2M553 226h4M553 227h1M517 241h4M553 241h2M517 242h4M553 242h4M517 243h4M553 243h4M519 244h2M553 244h2M553 259h2M517 260h4M553 260h4M517 261h4M553 261h4M520 262h1M553 262h2M517 276h4M553 276h1M517 277h4M553 277h4M517 278h4M553 278h4M519 279h2M553 279h4M520 280h1M553 280h1M519 293h2M517 294h4M553 294h2M517 295h4M553 295h4M517 296h4M553 296h4M519 297h2M553 297h2M519 311h2M553 311h1M517 312h4M553 312h2M517 313h4M553 313h4M517 314h4M553 314h4M519 315h2M553 315h2M517 329h4M553 329h2M517 330h4M553 330h4M517 331h4M553 331h4M517 332h4M553 332h4M519 333h2M553 333h1M517 347h4M553 347h2M517 348h4M553 348h4M517 349h4M553 349h4M519 350h2M553 350h2M520 351h1M553 364h1M517 365h4M553 365h2M517 366h4M553 366h4M517 367h4M553 367h4M519 368h2M553 368h2M519 382h2M553 382h2M517 383h4M553 383h4M517 384h4M553 384h4M517 385h4M553 385h4M519 386h2M553 386h1M517 400h4M553 400h2M517 401h4M553 401h4M517 402h4M553 402h4M517 403h4M553 403h2M520 404h1M553 417h1M517 418h4M553 418h2M517 419h4M553 419h4M517 420h4M553 420h4M519 421h2M553 421h2M520 422h1M519 435h2M553 435h2M517 436h4M553 436h4M517 437h4M553 437h4M517 438h4M553 438h2M519 439h2M517 453h4M553 453h2M517 454h4M553 454h4M517 455h4M553 455h4M519 456h2M553 456h2M520 457h1M553 470h1M517 471h4M553 471h2M517 472h4M553 472h4M517 473h4M553 473h4M519 474h2M553 474h2M520 475h1"/></g><g shape-rendering="crispEdges"><rect x="161" y="121" width="515" height="1" fill="#000"/><rect x="161" y="488" width="515" height="1" fill="#000"/><rect x="161" y="121" width="1" height="368" fill="#000"/><rect x="675" y="121" width="1" height="368" fill="#000"/><rect x="176" y="122" width="1" height="4" fill="#000"/><rect x="176" y="484" width="1" height="4" fill="#000"/><rect x="191" y="122" width="1" height="4" fill="#000"/><rect x="191" y="484" width="1" height="4" fill="#000"/><rect x="205" y="122" width="1" height="4" fill="#000"/><rect x="205" y="484" width="1" height="4" fill="#000"/><rect x="220" y="122" width="1" height="4" fill="#000"/><rect x="220" y="484" width="1" height="4" fill="#000"/><rect x="234" y="122" width="1" height="4" fill="#000"/><rect x="234" y="484" width="1" height="4" fill="#000"/><rect x="249" y="122" width="1" height="4" fill="#000"/><rect x="249" y="484" width="1" height="4" fill="#000"/><rect x="263" y="122" width="1" height="4" fill="#000"/><rect x="263" y="484" width="1" height="4" fill="#000"/><rect x="278" y="122" width="1" height="4" fill="#000"/><rect x="278" y="484" width="1" height="4" fill="#000"/><rect x="292" y="122" width="1" height="8" fill="#000"/><rect x="292" y="480" width="1" height="8" fill="#000"/><rect x="307" y="122" width="1" height="4" fill="#000"/><rect x="307" y="484" width="1" height="4" fill="#000"/><rect x="321" y="122" width="1" height="4" fill="#000"/><rect x="321" y="484" width="1" height="4" fill="#000"/><rect x="336" y="122" width="1" height="4" fill="#000"/><rect x="336" y="484" width="1" height="4" fill="#000"/><rect x="350" y="122" width="1" height="4" fill="#000"/><rect x="350" y="484" width="1" height="4" fill="#000"/><rect x="365" y="122" width="1" height="4" fill="#000"/><rect x="365" y="484" width="1" height="4" fill="#000"/><rect x="379" y="122" width="1" height="4" fill="#000"/><rect x="379" y="484" width="1" height="4" fill="#000"/><rect x="394" y="122" width="1" height="4" fill="#000"/><rect x="394" y="484" width="1" height="4" fill="#000"/><rect x="408" y="122" width="1" height="4" fill="#000"/><rect x="408" y="484" width="1" height="4" fill="#000"/><rect x="423" y="122" width="1" height="8" fill="#000"/><rect x="423" y="480" width="1" height="8" fill="#000"/><rect x="437" y="122" width="1" height="4" fill="#000"/><rect x="437" y="484" width="1" height="4" fill="#000"/><rect x="452" y="122" width="1" height="4" fill="#000"/><rect x="452" y="484" width="1" height="4" fill="#000"/><rect x="466" y="122" width="1" height="4" fill="#000"/><rect x="466" y="484" width="1" height="4" fill="#000"/><rect x="481" y="122" width="1" height="4" fill="#000"/><rect x="481" y="484" width="1" height="4" fill="#000"/><rect x="495" y="122" width="1" height="4" fill="#000"/><rect x="495" y="484" width="1" height="4" fill="#000"/><rect x="510" y="122" width="1" height="4" fill="#000"/><rect x="510" y="484" width="1" height="4" fill="#000"/><rect x="524" y="122" width="1" height="4" fill="#000"/><rect x="524" y="484" width="1" height="4" fill="#000"/><rect x="539" y="122" width="1" height="4" fill="#000"/><rect x="539" y="484" width="1" height="4" fill="#000"/><rect x="553" y="122" width="1" height="8" fill="#000"/><rect x="553" y="480" width="1" height="8" fill="#000"/><rect x="568" y="122" width="1" height="4" fill="#000"/><rect x="568" y="484" width="1" height="4" fill="#000"/><rect x="582" y="122" width="1" height="4" fill="#000"/><rect x="582" y="484" width="1" height="4" fill="#000"/><rect x="597" y="122" width="1" height="4" fill="#000"/><rect x="597" y="484" width="1" height="4" fill="#000"/><rect x="611" y="122" width="1" height="4" fill="#000"/><rect x="611" y="484" width="1" height="4" fill="#000"/><rect x="626" y="122" width="1" height="4" fill="#000"/><rect x="626" y="484" width="1" height="4" fill="#000"/><rect x="640" y="122" width="1" height="4" fill="#000"/><rect x="640" y="484" width="1" height="4" fill="#000"/><rect x="655" y="122" width="1" height="4" fill="#000"/><rect x="655" y="484" width="1" height="4" fill="#000"/><rect x="669" y="122" width="1" height="4" fill="#000"/><rect x="669" y="484" width="1" height="4" fill="#000"/><rect x="162" y="132" width="4" height="1" fill="#000"/><rect x="672" y="132" width="3" height="1" fill="#000"/><rect x="162" y="146" width="4" height="1" fill="#000"/><rect x="672" y="146" width="3" height="1" fill="#000"/><rect x="162" y="159" width="4" height="1" fill="#000"/><rect x="672" y="159" width="3" height="1" fill="#000"/><rect x="162" y="173" width="4" height="1" fill="#000"/><rect x="672" y="173" width="3" height="1" fill="#000"/><rect x="162" y="187" width="4" height="1" fill="#000"/><rect x="672" y="187" width="3" height="1" fill="#000"/><rect x="162" y="201" width="4" height="1" fill="#000"/><rect x="672" y="201" width="3" height="1" fill="#000"/><rect x="162" y="214" width="8" height="1" fill="#000"/><rect x="668" y="214" width="7" height="1" fill="#000"/><rect x="162" y="228" width="4" height="1" fill="#000"/><rect x="672" y="228" width="3" height="1" fill="#000"/><rect x="162" y="242" width="4" height="1" fill="#000"/><rect x="672" y="242" width="3" height="1" fill="#000"/><rect x="162" y="256" width="4" height="1" fill="#000"/><rect x="672" y="256" width="3" height="1" fill="#000"/><rect x="162" y="269" width="4" height="1" fill="#000"/><rect x="672" y="269" width="3" height="1" fill="#000"/><rect x="162" y="283" width="4" height="1" fill="#000"/><rect x="672" y="283" width="3" height="1" fill="#000"/><rect x="162" y="297" width="4" height="1" fill="#000"/><rect x="672" y="297" width="3" height="1" fill="#000"/><rect x="162" y="311" width="4" height="1" fill="#000"/><rect x="672" y="311" width="3" height="1" fill="#000"/><rect x="162" y="324" width="4" height="1" fill="#000"/><rect x="672" y="324" width="3" height="1" fill="#000"/><rect x="162" y="338" width="4" height="1" fill="#000"/><rect x="672" y="338" width="3" height="1" fill="#000"/><rect x="162" y="352" width="8" height="1" fill="#000"/><rect x="668" y="352" width="7" height="1" fill="#000"/><rect x="162" y="366" width="4" height="1" fill="#000"/><rect x="672" y="366" width="3" height="1" fill="#000"/><rect x="162" y="379" width="4" height="1" fill="#000"/><rect x="672" y="379" width="3" height="1" fill="#000"/><rect x="162" y="393" width="4" height="1" fill="#000"/><rect x="672" y="393" width="3" height="1" fill="#000"/><rect x="162" y="407" width="4" height="1" fill="#000"/><rect x="672" y="407" width="3" height="1" fill="#000"/><rect x="162" y="421" width="4" height="1" fill="#000"/><rect x="672" y="421" width="3" height="1" fill="#000"/><rect x="162" y="434" width="4" height="1" fill="#000"/><rect x="672" y="434" width="3" height="1" fill="#000"/><rect x="162" y="448" width="4" height="1" fill="#000"/><rect x="672" y="448" width="3" height="1" fill="#000"/><rect x="162" y="462" width="4" height="1" fill="#000"/><rect x="672" y="462" width="3" height="1" fill="#000"/><rect x="162" y="476" width="4" height="1" fill="#000"/><rect x="672" y="476" width="3" height="1" fill="#000"/></g><g shape-rendering="crispEdges"><rect x="690" y="268.30" width="14" height="9.46" fill="#ff4545"/><rect x="690" y="277.46" width="14" height="9.46" fill="#ff1414"/><rect x="690" y="286.62" width="14" height="9.46" fill="#ff2800"/><rect x="690" y="295.79" width="14" height="9.46" fill="#ff5a00"/><rect x="690" y="304.95" width="14" height="9.46" fill="#ff8c00"/><rect x="690" y="314.11" width="14" height="9.46" fill="#ffb400"/><rect x="690" y="323.27" width="14" height="9.46" fill="#ffeb00"/><rect x="690" y="332.44" width="14" height="9.46" fill="#e1ff00"/><rect x="690" y="341.60" width="14" height="9.46" fill="#aaff00"/><rect x="690" y="350.76" width="14" height="9.46" fill="#6eff00"/><rect x="690" y="359.93" width="14" height="9.46" fill="#3cf500"/><rect x="690" y="369.09" width="14" height="9.46" fill="#14eb14"/><rect x="690" y="378.25" width="14" height="9.46" fill="#00f03c"/><rect x="690" y="387.41" width="14" height="9.46" fill="#00ff78"/><rect x="690" y="396.58" width="14" height="9.46" fill="#00ffaa"/><rect x="690" y="405.74" width="14" height="9.46" fill="#00ffe6"/><rect x="690" y="414.90" width="14" height="9.46" fill="#00dcff"/><rect x="690" y="424.06" width="14" height="9.46" fill="#00aaff"/><rect x="690" y="433.23" width="14" height="9.46" fill="#0078ff"/><rect x="690" y="442.39" width="14" height="9.46" fill="#0046ff"/><rect x="690" y="451.55" width="14" height="9.46" fill="#0a1eff"/><rect x="690" y="460.71" width="14" height="9.46" fill="#0000e6"/><rect x="690" y="469.88" width="14" height="9.46" fill="#0000c8"/><rect x="690" y="479.04" width="14" height="9.46" fill="#0000a0"/><rect x="689" y="268" width="16" height="1" fill="#000"/><rect x="689" y="277" width="16" height="1" fill="#000"/><rect x="689" y="286" width="16" height="1" fill="#000"/><rect x="689" y="295" width="16" height="1" fill="#000"/><rect x="689" y="304" width="16" height="1" fill="#000"/><rect x="689" y="314" width="16" height="1" fill="#000"/><rect x="689" y="323" width="16" height="1" fill="#000"/><rect x="689" y="332" width="16" height="1" fill="#000"/><rect x="689" y="341" width="16" height="1" fill="#000"/><rect x="689" y="350" width="16" height="1" fill="#000"/><rect x="689" y="359" width="16" height="1" fill="#000"/><rect x="689" y="369" width="16" height="1" fill="#000"/><rect x="689" y="378" width="16" height="1" fill="#000"/><rect x="689" y="387" width="16" height="1" fill="#000"/><rect x="689" y="396" width="16" height="1" fill="#000"/><rect x="689" y="405" width="16" height="1" fill="#000"/><rect x="689" y="414" width="16" height="1" fill="#000"/><rect x="689" y="424" width="16" height="1" fill="#000"/><rect x="689" y="433" width="16" height="1" fill="#000"/><rect x="689" y="442" width="16" height="1" fill="#000"/><rect x="689" y="451" width="16" height="1" fill="#000"/><rect x="689" y="460" width="16" height="1" fill="#000"/><rect x="689" y="469" width="16" height="1" fill="#000"/><rect x="689" y="479" width="16" height="1" fill="#000"/><rect x="689" y="488" width="16" height="1" fill="#000"/><rect x="689" y="268" width="1" height="221" fill="#000"/><rect x="704" y="268" width="1" height="221" fill="#000"/><path d="M689.5 268.5 L696.8 235 L704.5 268.5 Z" fill="#ff7878" stroke="#000" stroke-width="1"/></g><g fill="#000" stroke="#000" stroke-width="0.3" style="filter:grayscale(1);font-family:'DejaVu Sans Light','DejaVu Sans','Liberation Sans',sans-serif;font-weight:200"><text x="343.2" y="82.9" font-size="22" text-anchor="start" textLength="151.5" lengthAdjust="spacingAndGlyphs" stroke-width="0.25">temperature</text><text x="90" y="102.4" font-size="13.6" text-anchor="start" textLength="63.3" lengthAdjust="spacingAndGlyphs" stroke-width="0.4">(degree)</text><text x="585.6" y="526.5" font-size="13.6" text-anchor="start" textLength="107.6" lengthAdjust="spacingAndGlyphs" stroke-width="0.4">(degree<tspan dy="-2.6">_</tspan><tspan dy="2.6">east)</tspan></text><text x="374.3" y="552.9" font-size="18.7" text-anchor="start" textLength="90.3" lengthAdjust="spacingAndGlyphs" stroke-width="0.2">longitude</text><text transform="translate(112.9,469.6) rotate(-90)" font-size="18.7" stroke-width="0.2"><tspan x="0.0" textLength="90.3" lengthAdjust="spacingAndGlyphs">planetary</tspan> <tspan x="101.8" textLength="90.1" lengthAdjust="spacingAndGlyphs">longitude</tspan> <tspan x="203.2" textLength="46.1" lengthAdjust="spacingAndGlyphs">from</tspan> <tspan x="257.9" textLength="30.5" lengthAdjust="spacingAndGlyphs">the</tspan> <tspan x="304.3" textLength="27.0" lengthAdjust="spacingAndGlyphs">ver</tspan></text><text x="162" y="506.9" font-size="15" text-anchor="middle" stroke-width="0.35">0</text><text x="292.4" y="506.9" font-size="15" text-anchor="middle" stroke-width="0.35">90</text><text x="423.2" y="506.9" font-size="15" text-anchor="middle" stroke-width="0.35">180</text><text x="553.6" y="506.9" font-size="15" text-anchor="middle" stroke-width="0.35">270</text><text x="154.2" y="219.9" font-size="15" text-anchor="end" stroke-width="0.35">280</text><text x="154.2" y="357.9" font-size="15" text-anchor="end" stroke-width="0.35">275</text><text x="711.1" y="282.067" font-size="13.8" text-anchor="start" stroke-width="0.4">255</text><text x="711.1" y="309.567" font-size="13.8" text-anchor="start" stroke-width="0.4">240</text><text x="711.1" y="337.067" font-size="13.8" text-anchor="start" stroke-width="0.4">225</text><text x="711.1" y="364.567" font-size="13.8" text-anchor="start" stroke-width="0.4">210</text><text x="711.1" y="392.067" font-size="13.8" text-anchor="start" stroke-width="0.4">195</text><text x="711.1" y="419.567" font-size="13.8" text-anchor="start" stroke-width="0.4">180</text><text x="711.1" y="447.067" font-size="13.8" text-anchor="start" stroke-width="0.4">165</text><text x="711.1" y="474.567" font-size="13.8" text-anchor="start" stroke-width="0.4">150</text></g></svg></body></html>
